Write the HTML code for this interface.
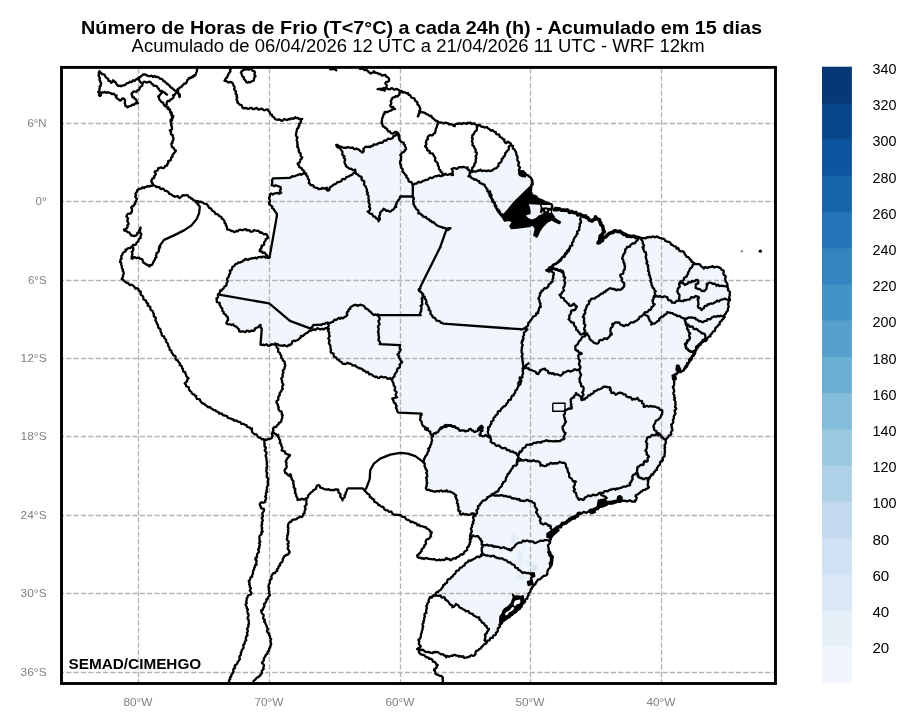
<!DOCTYPE html><html><head><meta charset="utf-8"><style>html,body{margin:0;padding:0;background:#fff}svg{display:block}text{font-family:"Liberation Sans",sans-serif}svg{will-change:transform;-webkit-font-smoothing:antialiased}</style></head><body>
<svg width="918" height="727" viewBox="0 0 918 727">
<rect width="918" height="727" fill="#fff"/>
<defs><clipPath id="c"><rect x="61.5" y="67.4" width="714.0" height="616.1"/></clipPath><filter id="bl" x="-50%" y="-50%" width="200%" height="200%"><feGaussianBlur stdDeviation="1"/></filter></defs>
<g clip-path="url(#c)">
<path d="M511.0 144.7 L506.7 151.4 L501.7 160.2 L496.7 167.7 L490.5 171.5 L480.4 170.2 L470.4 172.2 L470.4 172.2 L467.4 167.7 L460.4 167.2 L451.6 169.0 L452.9 175.2 L449.1 174.0 L442.8 175.2 L434.1 176.5 L425.3 180.3 L417.8 182.8 L412.8 184.8 L412.8 184.8 L407.8 179.0 L403.3 171.5 L400.2 164.0 L401.0 155.2 L405.8 148.9 L404.0 142.7 L399.5 140.2 L398.2 133.2 L396.5 132.2 L398.2 133.2 L392.7 137.7 L386.5 140.2 L377.7 143.9 L370.2 146.4 L363.9 147.7 L362.7 152.7 L357.7 148.9 L350.1 147.7 L343.9 147.7 L336.4 145.2 L336.4 145.2 L341.4 150.2 L343.9 156.5 L345.1 164.0 L347.6 168.2 L355.1 170.2 L355.6 172.7 L355.6 172.7 L347.6 176.5 L340.1 181.5 L332.6 185.3 L327.6 190.8 L326.3 187.8 L321.3 189.0 L315.1 187.8 L310.0 184.0 L307.5 177.8 L305.0 172.7 L305.0 172.7 L297.5 175.2 L290.0 177.3 L290.0 177.8 L273.0 178.3 L271.7 185.3 L280.5 186.5 L280.5 192.8 L270.0 194.0 L269.2 204.1 L275.0 210.3 L277.0 215.3 L277.0 215.3 L269.6 256.9 L269.6 256.9 L269.2 257.5 L269.2 257.5 L260.5 257.0 L252.9 258.3 L244.2 260.0 L235.4 264.5 L230.9 269.6 L228.4 277.1 L225.9 285.8 L220.4 290.8 L217.4 297.1 L216.6 300.9 L219.1 303.4 L222.9 310.9 L227.9 318.4 L226.6 323.4 L235.4 325.9 L240.4 331.7 L252.9 330.9 L260.5 324.7 L261.7 329.7 L260.5 344.7 L268.0 345.2 L275.5 344.2 L283.0 346.0 L290.0 345.2 L290.0 345.2 L292.5 341.7 L297.5 340.2 L303.8 334.7 L311.3 330.2 L315.1 329.2 L328.8 328.4 L328.8 328.4 L328.8 339.7 L331.3 352.2 L337.6 359.8 L343.9 363.5 L350.1 363.5 L357.7 367.3 L367.7 372.3 L375.2 377.3 L382.7 377.3 L390.2 378.5 L392.7 381.1 L395.2 389.8 L396.5 397.3 L392.2 398.6 L395.2 403.6 L397.7 412.9 L421.5 413.6 L420.3 419.9 L422.8 426.2 L427.8 428.9 L425.0 429.2 L429.2 430.8 L431.3 435.0 L432.8 435.3 L431.6 441.5 L429.1 449.0 L425.3 457.8 L422.8 461.6 L422.8 461.6 L425.3 466.6 L427.3 474.1 L426.6 482.9 L426.6 489.9 L434.1 491.1 L442.8 491.1 L446.6 490.4 L455.4 494.1 L457.4 502.9 L459.1 510.4 L460.4 514.2 L467.9 514.2 L474.2 513.7 L472.9 521.7 L470.9 531.7 L470.4 539.2 L470.4 539.2 L472.9 535.5 L477.9 536.2 L480.9 540.5 L482.4 545.5 L481.7 554.3 L481.7 555.5 L481.7 555.5 L475.4 558.0 L467.9 561.8 L460.4 568.1 L454.1 574.3 L447.9 580.6 L441.6 588.1 L435.3 594.4 L430.8 597.4 L430.1 597.1 L437.6 595.1 L443.8 597.6 L448.9 602.1 L452.6 607.1 L456.4 604.6 L462.6 608.9 L471.4 613.9 L478.9 618.1 L483.9 624.6 L489.0 628.9 L485.2 635.2 L484.7 640.2 L486.4 642.4 L486.3 642.5 L487.5 641.0 L493.3 636.7 L497.5 630.8 L500.0 625.0 L503.3 620.8 L509.2 616.7 L515.0 612.5 L520.0 607.5 L525.0 601.7 L528.3 595.0 L530.8 590.0 L534.2 585.0 L537.5 580.8 L541.7 577.5 L546.7 574.2 L548.3 570.0 L550.8 565.0 L551.7 558.3 L549.2 553.3 L548.3 547.5 L549.7 541.7 L552.0 536.3 L552.5 533.2 L555.0 529.8 L559.2 526.5 L564.2 523.2 L570.0 519.8 L575.0 516.5 L580.0 513.2 L585.0 512.3 L590.0 511.5 L595.0 509.0 L600.0 506.5 L605.0 504.0 L610.0 502.3 L616.7 501.5 L622.5 500.7 L628.3 501.0 L635.0 501.5 L636.7 499.8 L635.8 496.5 L638.3 493.2 L643.3 490.7 L648.3 487.3 L647.5 483.2 L648.3 479.0 L651.7 474.8 L655.8 470.7 L658.3 465.7 L662.5 459.8 L661.7 461.0 L665.0 455.0 L664.7 448.3 L665.8 440.0 L669.2 435.8 L671.7 432.5 L672.0 425.0 L674.2 416.7 L675.8 408.3 L674.7 398.3 L673.3 390.0 L674.2 381.7 L674.2 375.8 L677.5 372.5 L681.7 371.7 L685.0 368.3 L689.2 362.5 L693.3 355.8 L696.7 349.2 L700.8 343.3 L706.7 340.0 L685.0 368.0 L689.2 361.2 L693.3 353.7 L697.5 346.2 L701.7 341.2 L706.7 338.3 L710.0 336.2 L715.0 329.5 L720.0 322.8 L724.2 317.0 L727.5 310.3 L729.2 302.0 L729.7 293.7 L727.5 286.2 L725.8 279.5 L723.3 272.0 L720.8 267.8 L716.7 266.7 L710.0 267.0 L704.2 267.8 L698.3 264.5 L695.0 263.7 L690.0 259.5 L685.0 254.5 L685.0 253.1 L681.0 250.9 L676.8 248.1 L671.1 243.9 L665.5 240.3 L659.8 237.5 L654.1 236.8 L648.5 237.5 L642.8 238.2 L638.5 237.5 L638.5 237.5 L632.9 236.8 L627.2 236.1 L623.0 233.2 L617.3 231.1 L611.6 231.8 L606.0 236.1 L601.7 240.3 L598.9 243.1 L600.3 236.1 L603.9 231.8 L603.1 227.6 L600.3 221.9 L596.1 217.7 L591.8 221.2 L587.6 217.7 L580.5 214.8 L572.0 212.0 L563.5 209.9 L555.0 209.2 L554.4 209.6 L552.3 207.1 L551.6 203.3 L542.4 200.0 L536.7 198.6 L535.0 195.5 L531.1 195.2 L530.8 194.8 L531.3 187.0 L532.5 182.7 L531.8 178.5 L528.5 176.4 L525.4 174.2 L520.4 172.8 L520.0 175.2 L519.3 167.7 L518.0 160.2 L515.5 151.4 L511.7 145.2Z" fill="#f1f6fd" stroke="none"/>
<g filter="url(#bl)">
<ellipse cx="514.5" cy="539" rx="4" ry="5.5" fill="#e2ecf8"/>
<ellipse cx="520" cy="558" rx="3.5" ry="6.5" fill="#e2ecf8"/>
<ellipse cx="534.3" cy="567.5" rx="3.2" ry="3.6" fill="#d3e3f3"/>
<ellipse cx="520.5" cy="577.5" rx="5" ry="2.8" fill="#e0ebf7"/>
<ellipse cx="524" cy="548" rx="2" ry="2" fill="#e4eef9"/>
<ellipse cx="528" cy="563" rx="3" ry="3" fill="#e4eef9"/>
</g>
<g stroke="#b4b4b4" stroke-width="1.35" stroke-dasharray="5.14 2.22" fill="none">
<path d="M138.5 67.4 V683.5" stroke-dashoffset="6.44"/>
<path d="M269.5 67.4 V683.5" stroke-dashoffset="6.44"/>
<path d="M400.5 67.4 V683.5" stroke-dashoffset="6.44"/>
<path d="M530.5 67.4 V683.5" stroke-dashoffset="6.44"/>
<path d="M661.5 67.4 V683.5" stroke-dashoffset="6.44"/>
<path d="M61.5 123.5 H775.5" stroke-dashoffset="2.66"/>
<path d="M61.5 201.5 H775.5" stroke-dashoffset="2.66"/>
<path d="M61.5 280.5 H775.5" stroke-dashoffset="2.66"/>
<path d="M61.5 358.5 H775.5" stroke-dashoffset="2.66"/>
<path d="M61.5 436.5 H775.5" stroke-dashoffset="2.66"/>
<path d="M61.5 515.5 H775.5" stroke-dashoffset="2.66"/>
<path d="M61.5 593.5 H775.5" stroke-dashoffset="2.66"/>
<path d="M61.5 672.5 H775.5" stroke-dashoffset="2.66"/>
</g>
<g stroke="#000" stroke-width="2.3" fill="none" stroke-linejoin="round" stroke-linecap="round">
<path d="M197.3 68.8 L196.9 70.0 L196.9 71.4 L196.2 72.5 L195.9 73.8 L195.4 75.1 L193.9 75.4 L193.2 77.1 L191.5 76.9"/>
<path d="M168.2 107.1 L168.2 108.4 L169.6 109.1 L169.9 110.2 L170.3 111.3 L170.5 112.7 L171.4 113.8 L171.7 115.1 L172.0 116.5 L172.0 117.7 L171.8 119.1 L170.5 120.0 L170.6 121.5 L171.0 122.5 L171.5 123.7 L171.0 125.3 L171.9 126.4 L171.8 127.8 L172.1 129.0 L171.3 129.9 L169.8 130.4 L171.0 131.7 L170.7 133.2 L171.1 134.4 L172.7 135.1 L172.9 136.4 L173.2 137.7 L173.6 139.0 L173.1 140.2 L172.3 141.4 L172.6 142.7 L171.2 143.8 L171.6 145.2 L171.8 146.5 L172.3 147.4 L173.6 147.7 L174.1 149.0 L174.9 149.9 L175.9 150.5 L175.2 151.9 L174.1 152.8 L173.5 154.1 L172.4 154.9 L172.6 156.7 L171.3 157.3 L171.0 158.6 L170.9 160.0 L169.6 160.7 L168.1 161.2 L168.4 162.8 L167.3 163.8 L167.2 165.5 L165.2 165.8 L164.7 167.2 L163.5 168.1 L162.2 168.0 L160.8 167.4 L159.5 167.9 L158.2 168.2 L158.1 169.7 L157.2 170.6 L155.6 171.0 L154.6 171.8 L155.8 173.7 L155.3 175.1 L154.0 176.4 L154.3 177.9 L152.7 178.3 L151.8 179.4 L151.5 180.8"/>
<path d="M151.5 180.8 L151.5 182.3 L152.7 183.4 L152.9 184.9 L152.1 185.8 L150.6 185.7 L149.4 186.7 L147.7 186.0 L146.5 186.8 L145.1 187.1 L144.1 188.1 L142.5 187.2 L141.5 188.5 L140.2 188.6 L139.0 189.2 L137.8 189.6 L137.2 190.5 L137.3 191.8 L136.0 192.7 L135.3 193.8 L136.2 195.5 L135.2 196.6 L136.0 197.8 L137.0 198.9 L136.1 200.3 L136.0 201.6 L135.2 202.2 L135.2 204.0 L133.8 204.5 L133.7 206.1 L132.0 206.4 L131.2 207.7 L131.9 209.1 L132.1 210.4 L131.7 211.6 L131.3 212.8 L130.3 213.7 L128.7 213.6 L127.4 214.3 L126.6 215.8 L126.5 216.6 L127.6 217.7 L128.0 218.9 L127.3 220.5 L127.6 221.7 L128.4 222.9 L128.6 224.2 L127.3 225.3 L127.7 226.6 L127.2 227.8 L126.4 228.4 L125.4 229.6 L124.0 229.5 L124.5 230.7 L125.9 230.8 L126.9 231.4 L127.8 232.3 L129.3 232.4 L130.0 233.4 L130.7 234.7 L131.5 235.7 L133.0 235.7 L134.3 236.1 L134.9 235.8 L136.4 235.4 L136.9 234.1 L137.5 232.7 L139.1 232.5 L139.5 231.2 L139.2 229.8 L140.3 228.7 L140.6 227.5 L140.4 228.7 L140.2 230.0 L139.6 231.3 L140.2 232.6 L141.3 233.9 L141.0 235.2 L140.4 236.6 L140.7 237.9 L139.4 238.6 L138.6 239.8 L138.3 241.3 L137.1 242.2 L136.3 243.3 L135.8 244.7 L134.6 245.0 L133.0 244.9 L132.5 246.3 L131.4 246.8"/>
<path d="M153.2 184.8 L154.3 185.6 L155.5 186.0 L156.4 187.1 L158.0 187.0 L159.4 187.1 L160.1 188.5 L161.3 189.2 L163.1 188.6 L164.1 189.7 L165.0 190.9 L166.6 190.8 L167.7 191.7 L168.7 192.4 L169.3 193.8 L170.7 194.1 L171.8 194.8 L172.8 195.8 L173.9 196.1 L175.0 196.8 L176.3 196.3 L177.6 196.0 L178.5 197.3 L179.6 198.1 L180.9 196.9 L181.9 196.2 L182.8 195.2 L184.2 195.4 L185.6 195.4 L186.7 195.0 L188.0 195.6 L188.8 197.2 L190.3 197.3 L191.0 198.5 L192.5 198.8 L193.2 200.0 L194.5 200.5 L195.9 200.9 L196.7 201.6 L198.1 201.1 L199.4 202.3 L200.8 201.6 L201.9 202.4 L203.2 202.7 L204.2 203.7 L205.6 203.9 L206.9 204.2 L207.8 205.4 L208.4 206.6 L209.0 207.8 L210.6 208.3 L211.5 209.2 L212.0 210.5 L213.4 211.2 L214.2 211.7 L215.0 212.7 L215.6 214.1 L217.0 214.1 L218.1 214.6 L218.9 215.7 L220.0 216.4 L221.4 217.0 L221.9 218.6 L223.3 219.2 L224.0 220.5 L224.7 221.6 L224.5 223.0 L226.0 223.9 L225.9 225.4 L226.8 226.5 L227.0 227.8 L227.0 229.3 L228.5 229.6 L229.7 229.9 L230.7 230.6 L231.8 231.1 L233.1 231.1 L234.2 232.2 L235.4 231.7 L236.6 230.9 L237.9 231.3 L239.0 229.9 L240.3 229.8 L241.8 230.0 L243.3 230.2 L244.5 229.3 L246.0 229.2 L246.7 230.4 L248.3 230.2 L249.7 230.3 L250.4 231.6 L251.7 231.6 L253.0 231.3 L254.0 230.1 L255.4 230.5 L256.8 230.8 L258.1 230.6 L259.2 231.6 L260.2 232.8 L261.8 232.5 L262.9 233.5 L263.8 234.3 L265.4 233.9 L266.6 234.3 L267.2 235.8 L268.1 236.6 L268.3 237.3 L267.4 238.4 L265.8 239.0 L265.6 240.5 L264.7 241.5 L264.1 242.6 L264.2 244.1 L263.6 245.2 L261.8 245.5 L261.5 246.8"/>
<path d="M195.3 201.6 L199.8 206.6 L199.1 213.3 L196.6 219.1 L191.5 225.4 L184.0 230.4 L174.0 235.4 L164.0 239.9 L159.0 246.9"/>
<path d="M290.0 177.8 L273.0 178.3 L272.3 179.6 L272.0 181.0 L272.4 182.5 L271.9 183.9 L271.6 185.3 L273.0 185.3 L274.2 186.2 L275.6 185.3 L276.8 185.6 L278.0 186.4 L279.2 186.4 L280.4 187.1 L280.6 187.8 L280.9 189.0 L279.9 190.3 L280.2 191.5 L281.2 192.8 L279.3 193.8 L277.8 192.8 L276.5 193.1 L275.2 193.4 L273.9 193.6 L272.7 194.5 L271.2 193.5 L270.0 194.2 L269.9 195.3 L269.8 196.5 L269.1 197.8 L269.2 199.0 L269.9 200.3 L270.1 201.6 L269.1 202.8 L269.1 204.1 L270.2 204.8 L270.9 205.8 L272.2 206.3 L272.1 208.0 L273.3 208.6 L274.0 209.6 L274.5 210.7 L275.4 211.6 L276.1 212.8 L276.9 213.9 L276.8 215.4"/>
<path d="M230.9 68.8 L230.0 69.8 L230.5 71.5 L229.5 72.6 L228.6 73.7 L228.2 75.0 L227.4 76.1 L227.2 77.5 L225.8 78.2 L225.3 79.7 L224.5 80.8 L225.3 81.0 L226.5 81.2 L227.6 81.9 L228.7 82.5 L230.1 81.9 L231.4 82.2 L232.4 83.0 L233.2 84.1 L233.4 85.4 L234.3 86.4 L234.7 87.6 L234.2 89.2 L234.8 90.4 L236.0 91.2 L235.7 92.6 L235.7 93.9 L237.0 95.0 L236.5 96.3 L237.3 97.5 L236.6 98.9 L236.7 100.1 L237.6 101.3 L237.3 102.6 L238.5 103.3 L239.2 104.3 L240.4 104.9 L241.7 105.2 L242.1 106.6 L242.7 107.9 L244.0 108.3 L245.4 107.9 L246.7 108.2 L247.9 108.9 L249.2 108.7 L250.5 107.8 L251.7 107.9 L252.9 109.2 L254.2 109.2 L255.5 108.3 L256.7 107.9 L257.9 109.1 L259.1 109.7 L260.5 108.9 L261.8 108.6 L262.9 109.6 L264.1 110.3 L265.4 110.0 L266.8 109.3 L268.0 109.8 L268.6 111.2 L269.7 111.9 L270.0 113.3 L270.6 114.4 L272.0 114.9 L272.3 116.3 L273.4 117.0 L274.4 117.7 L275.0 118.9 L276.1 119.5 L277.4 119.8 L278.8 119.4 L280.2 119.9 L281.5 120.8 L283.0 120.3 L284.3 119.0 L285.8 119.7 L287.3 120.2 L288.6 119.0 L290.1 119.4"/>
<path d="M240.9 72.5 L241.8 71.3 L242.9 70.3 L244.4 69.7 L245.4 69.4 L246.7 69.1 L248.0 69.5 L249.3 69.7 L250.4 68.4 L251.8 69.4 L252.7 70.9 L254.2 71.2 L254.9 72.4 L254.6 73.8 L254.6 75.2 L255.6 76.2 L254.4 77.4 L254.0 78.8 L253.9 80.5 L252.3 81.2 L251.2 81.5 L250.1 82.5 L248.6 82.0 L247.5 82.7 L246.1 82.0 L245.7 80.7 L244.8 79.9 L243.9 79.0 L243.9 77.3 L242.4 76.5 L241.9 75.2 L241.6 73.7 L241.1 72.4"/>
<path d="M277.0 215.3 L269.6 256.9"/>
<path d="M330.1 69.3 L331.3 69.3 L332.6 69.2 L333.9 68.6 L335.1 69.6 L336.3 70.3"/>
<path d="M359.7 68.8 L360.9 68.8 L362.3 68.3 L363.5 69.2 L364.6 70.1 L365.9 69.8 L367.1 70.3 L367.9 71.0 L368.6 72.1 L369.8 72.8 L370.7 73.6 L371.0 73.2 L372.1 72.7 L373.4 72.5 L373.9 71.2 L374.7 72.2 L375.6 72.9 L377.0 73.0 L378.2 73.4 L379.0 74.2 L380.3 74.0 L381.4 75.1 L382.6 75.6 L384.0 75.0 L385.5 74.9 L386.0 76.4 L387.2 76.9 L388.2 77.6 L389.0 78.9 L389.1 80.6 L388.1 81.6 L386.5 81.9 L385.4 82.9 L385.5 83.8 L386.8 84.8 L386.4 86.3 L386.6 87.6 L385.5 88.0 L385.0 89.4 L384.6 90.7 L382.8 89.5 L381.4 90.0 L380.2 89.4 L379.0 88.9 L377.6 89.2 L379.0 89.2 L380.2 88.7 L381.5 89.2 L382.7 88.3 L383.9 88.0 L385.2 88.8 L386.5 88.2 L387.7 88.9 L389.0 89.4 L390.2 89.1 L391.5 88.1 L392.8 88.6 L393.9 89.6 L395.2 89.3 L396.5 88.9 L397.7 89.3 L398.9 90.2 L400.0 91.1 L401.7 91.0"/>
<path d="M401.5 91.3 L400.4 92.1 L399.4 93.1 L399.3 94.7 L398.3 95.6 L397.4 96.7 L395.8 96.2 L394.8 97.1 L393.5 97.3 L392.4 97.9 L391.8 99.5 L391.3 100.1 L390.8 101.3 L391.4 102.7 L391.1 103.9 L390.3 105.1 L390.6 106.4 L391.4 107.1 L393.1 106.9 L393.8 108.6 L395.1 109.1 L394.0 109.0 L392.7 109.2 L391.7 110.1 L390.6 110.6 L389.4 111.0 L388.3 111.6 L387.2 112.1 L385.7 111.8 L384.5 112.1 L384.6 113.8 L383.3 114.6 L383.3 115.9 L382.9 116.9 L382.3 118.0 L382.0 119.2 L381.9 120.4 L382.0 121.6 L381.4 122.7 L382.2 124.0 L382.5 124.8 L382.9 126.4 L384.5 126.8 L385.3 128.0 L386.7 128.6 L387.4 129.9 L388.1 131.3 L389.9 131.5 L390.5 132.9 L391.9 133.5 L392.8 133.6 L394.0 133.1 L395.0 131.8 L396.4 132.0 L396.6 133.5 L397.3 134.6 L398.5 135.3 L398.7 136.6 L399.3 137.6 L399.2 138.9 L399.7 140.1"/>
<path d="M401.5 91.3 L402.5 92.5 L404.0 92.2 L405.4 92.6 L406.5 93.3 L408.1 93.0 L408.7 94.8 L410.1 95.2 L410.8 96.4 L411.5 97.7 L412.9 98.0 L414.4 98.3 L414.8 99.7 L415.3 100.9 L416.6 101.5 L417.5 102.3 L417.3 104.0 L418.1 104.9 L419.1 105.9 L419.7 107.2 L420.3 108.6 L419.8 110.3 L419.2 111.1 L419.7 112.8 L418.6 113.8 L418.8 115.3 L417.8 116.4 L418.6 115.2 L418.6 113.6 L420.1 112.8 L421.3 111.9 L421.9 112.2 L423.1 112.5 L424.4 112.6 L425.5 113.3 L426.5 114.2 L427.7 114.3 L428.7 115.1 L429.7 116.0 L431.4 115.9 L431.9 117.4 L432.9 118.3 L434.0 119.0 L434.8 119.9 L435.7 120.8 L437.2 120.9 L438.1 121.8"/>
<path d="M437.8 122.1 L438.1 123.6 L437.3 124.9 L436.9 126.3 L436.5 127.6 L435.8 128.8 L435.7 130.2 L435.3 131.5 L435.2 132.9 L433.5 133.7 L433.0 134.9 L431.8 135.5 L430.1 135.0 L429.0 135.7 L427.9 136.6 L427.5 137.7 L428.0 139.1 L426.6 140.1 L426.2 141.3 L425.8 142.6 L426.5 144.1 L425.9 145.3 L425.0 146.3 L426.1 147.4 L427.1 148.2 L427.1 149.8 L428.0 150.6 L429.7 151.0 L429.5 153.0 L430.9 153.3 L432.5 153.4 L433.3 154.6 L433.9 155.9 L434.6 156.8 L435.2 157.9 L435.2 159.3 L435.0 160.7 L436.2 161.5 L437.1 162.5 L437.9 163.6 L437.8 165.3 L438.7 166.4 L439.0 167.8 L439.0 169.3 L440.4 170.2 L440.5 171.7 L442.2 172.5 L442.4 173.9 L442.8 175.3"/>
<path d="M437.8 122.1 L439.1 122.4 L440.3 122.5 L441.6 122.5 L442.8 123.1 L444.0 123.3 L445.4 122.6 L446.7 123.1 L448.0 123.1 L449.0 124.5 L450.4 124.2 L451.6 124.5 L452.8 124.9 L453.3 125.8 L454.8 126.2 L454.6 125.3 L455.4 124.2 L456.6 123.7 L457.9 123.9 L459.1 123.3 L460.4 123.5 L461.7 124.0 L462.9 123.2 L464.1 123.3 L465.4 123.2 L466.6 123.9 L467.9 122.7 L469.2 123.2 L470.4 122.5 L471.6 124.1 L473.2 123.4 L474.6 123.5 L475.6 124.9 L477.1 124.8 L478.4 125.2"/>
<path d="M478.4 125.1 L477.6 126.3 L476.7 127.4 L476.9 129.0 L476.7 130.5 L475.2 131.3 L474.5 132.3 L474.0 133.4 L473.4 134.5 L472.3 135.2 L472.4 136.7 L471.9 137.8 L472.7 138.8 L472.2 140.2 L471.9 141.5 L472.6 142.7 L472.8 143.9 L472.3 145.3 L474.0 146.2 L474.2 147.7 L475.2 148.7 L475.7 150.0 L475.4 151.8 L476.8 152.6 L476.7 154.0 L476.3 155.2 L475.5 156.4 L476.4 157.8 L475.9 159.0 L475.6 160.2 L475.8 161.5 L475.5 162.9 L474.3 163.9 L474.4 165.4 L473.6 166.6 L472.3 167.5 L472.3 168.8 L471.8 170.0 L471.2 171.2 L469.9 172.0"/>
<path d="M478.4 125.1 L479.8 124.9 L480.7 126.2 L481.8 126.8 L483.2 126.6 L484.2 127.5 L485.6 127.3 L487.0 127.0 L487.9 128.3 L489.0 128.9 L489.9 129.7 L490.8 130.7 L492.5 130.2 L493.5 131.0 L494.5 131.9 L495.8 132.1 L496.0 133.9 L497.2 134.4 L498.9 134.3 L499.5 135.4 L499.8 137.0 L501.1 137.4 L502.2 138.0 L502.8 139.2 L504.4 139.5 L504.3 141.2 L504.9 142.3 L506.0 143.2 L506.9 142.2 L508.2 141.6 L508.7 142.6 L510.3 142.9 L510.9 144.1 L511.3 145.7 L513.1 145.8 L512.8 147.4 L512.9 148.7 L514.4 149.3 L515.1 150.3 L515.5 151.5 L516.2 152.6 L516.3 153.9 L516.6 155.2 L517.3 156.4 L517.7 157.6 L517.3 159.1 L517.4 160.4 L518.3 161.5 L519.1 162.6 L518.7 164.0 L518.1 165.3 L519.1 166.5 L520.0 167.6 L519.3 169.0 L518.8 170.3 L519.7 171.5 L520.0 172.7 L519.5 174.0 L520.4 175.2"/>
<path d="M511.0 144.7 L510.0 145.6 L508.8 146.5 L508.9 148.1 L508.7 149.5 L507.6 150.4 L506.8 151.5 L506.1 152.5 L505.0 153.4 L505.1 154.9 L504.6 156.0 L503.5 156.8 L503.1 158.1 L501.7 158.7 L501.8 160.3 L501.3 161.5 L500.6 162.6 L499.1 163.1 L498.4 164.2 L498.6 165.9 L497.5 166.7 L496.9 167.8 L495.7 168.4 L494.4 168.6 L493.5 169.4 L492.6 170.3 L491.3 170.5 L490.3 171.2 L489.3 170.9 L488.0 170.4 L486.7 171.2 L485.4 170.8 L484.2 170.5 L482.9 171.0 L481.6 170.9 L480.5 169.6 L479.2 170.7 L477.9 170.5 L476.7 171.2 L475.5 171.8 L474.2 171.4 L472.8 171.1 L471.7 172.2 L470.4 172.5"/>
<path d="M470.4 172.2 L469.6 171.2 L469.2 169.8 L467.6 169.3 L467.8 167.5 L466.0 167.8 L464.6 167.2 L463.2 166.8 L461.8 167.5 L460.4 167.2 L459.0 167.1 L458.0 168.2 L456.8 168.8 L455.4 168.3 L454.0 168.0 L452.8 168.5 L451.6 168.9 L452.4 170.1 L452.7 171.4 L452.3 172.7 L452.9 173.9 L452.9 175.2 L451.6 174.9 L450.6 173.8 L449.0 174.4 L448.0 174.8 L446.6 174.6 L445.2 173.9 L444.1 175.0 L442.8 174.9 L441.7 176.0 L440.4 176.2 L439.0 175.3 L437.8 175.8 L436.6 176.2 L435.3 176.2 L434.1 176.8 L433.0 177.5 L431.8 178.1 L430.1 177.6 L428.9 178.4 L428.0 179.7 L426.6 179.9 L425.2 180.0 L424.1 180.7 L422.7 180.9 L421.7 182.0 L420.5 182.5 L418.8 181.7 L417.7 182.6 L416.6 183.5 L415.2 183.6 L414.0 184.3 L413.0 185.3"/>
<path d="M412.8 184.8 L412.1 183.7 L411.7 182.4 L410.3 181.9 L408.8 181.5 L408.4 180.2 L408.1 178.7 L407.2 177.9 L406.3 177.0 L406.5 175.4 L405.2 174.7 L404.5 173.7 L403.8 172.6 L402.7 171.8 L402.6 170.3 L402.6 168.8 L401.4 167.9 L400.8 166.6 L401.2 165.1 L400.1 164.0 L400.3 162.7 L400.0 161.4 L401.1 160.3 L400.9 159.0 L401.0 157.7 L401.3 156.5 L400.2 155.1 L401.5 154.0 L401.9 152.6 L403.6 152.2 L404.5 151.3 L405.0 150.0 L406.1 149.2 L405.8 147.6 L405.0 146.4 L405.0 145.1 L403.6 144.1 L403.8 142.7 L402.7 142.4 L401.4 142.0 L400.5 141.0 L399.7 139.8 L399.1 138.8 L398.9 137.4 L399.3 135.9 L398.9 134.5 L397.4 133.3 L397.5 132.5 L396.4 132.2"/>
<path d="M398.2 133.2 L397.1 134.0 L396.1 135.0 L394.9 135.8 L393.4 136.2 L392.9 137.8 L391.7 138.6 L390.4 139.0 L388.8 138.6 L387.5 139.1 L386.6 140.5 L385.1 140.4 L383.8 140.8 L382.9 142.2 L381.7 142.9 L380.1 142.6 L378.8 143.0 L377.7 143.9 L376.5 144.5 L375.2 144.7 L373.7 144.4 L372.8 145.9 L371.4 145.9 L370.4 147.1 L368.9 146.7 L367.7 147.0 L366.3 146.7 L365.1 147.0 L364.0 148.3 L363.4 148.9 L363.7 150.3 L363.6 151.6 L362.2 152.6 L362.0 151.6 L360.5 151.4 L359.7 150.3 L358.8 149.5 L357.4 149.3 L356.5 148.4 L355.0 149.2 L353.8 148.7 L352.7 147.5 L351.4 147.9 L350.2 147.6 L348.9 147.3 L347.6 147.0 L346.4 147.9 L345.1 147.6 L343.9 147.9 L342.6 147.4 L341.4 146.8 L340.1 146.5 L338.7 146.5 L337.8 145.0 L336.4 145.0"/>
<path d="M336.4 145.2 L336.9 146.6 L338.0 147.5 L339.8 147.7 L340.5 149.1 L341.3 150.2 L342.2 151.3 L342.5 152.6 L342.2 154.2 L342.9 155.4 L344.5 156.2 L343.7 157.8 L344.9 158.9 L345.2 160.1 L344.4 161.5 L344.7 162.8 L345.1 164.0 L345.9 165.0 L346.0 166.3 L347.3 167.0 L348.3 167.8 L348.9 168.4 L350.2 168.8 L351.5 168.7 L352.5 170.1 L353.8 170.1 L355.3 169.6 L355.2 171.5 L354.8 172.9"/>
<path d="M355.6 172.7 L354.2 172.6 L353.1 173.4 L352.3 174.5 L351.2 175.2 L350.0 175.5 L349.0 176.3 L347.8 176.8 L346.4 177.0 L345.8 178.3 L344.8 179.3 L343.1 178.9 L341.9 179.6 L341.4 181.1 L340.2 181.6 L338.8 182.0 L337.3 182.1 L336.4 183.4 L335.2 184.2 L333.8 184.5 L332.7 185.4 L331.9 186.3 L330.6 186.8 L329.7 187.6 L329.6 189.2 L328.9 190.3 L327.4 190.6 L326.8 189.9 L327.2 188.6 L326.8 187.6 L325.2 188.6 L323.8 188.5 L322.4 187.9 L321.3 189.0 L320.1 188.7 L318.7 189.3 L317.6 188.0 L316.4 187.8 L315.1 187.5 L313.9 187.2 L313.5 185.6 L312.3 185.2 L310.7 185.2 L310.1 183.9 L308.8 183.1 L309.2 181.5 L309.1 180.0 L308.1 179.0 L307.8 177.7 L307.5 176.2 L306.2 175.3 L306.2 173.7 L304.3 173.1 L304.0 171.2 L303.5 170.2 L302.2 169.6 L301.8 168.4 L300.6 167.8 L299.3 167.3 L299.2 165.8 L298.4 164.8 L297.5 164.0 L298.3 162.9 L299.8 162.4 L300.2 161.0 L300.4 159.4 L301.6 158.7 L302.3 157.6 L301.6 156.9 L300.6 156.0 L300.7 154.5 L300.6 153.2 L299.4 152.5 L298.7 151.5 L299.0 150.1 L298.4 148.9 L298.3 147.6 L297.0 146.6 L297.9 145.1 L297.2 143.9 L297.5 142.6 L297.1 141.4 L296.7 140.2 L296.9 138.9 L297.5 137.6 L296.4 136.4 L295.9 135.2 L296.2 133.9 L296.2 132.7 L296.7 131.4 L296.8 130.1 L297.1 128.8 L298.5 127.8 L298.4 126.4 L299.5 125.4 L299.1 123.7 L300.5 122.9 L300.9 121.5 L300.9 119.9 L302.2 119.0 L300.6 119.2 L299.2 119.1 L297.9 117.9 L296.4 118.2 L295.1 117.3 L293.8 118.8 L292.5 118.4 L291.3 118.7 L290.0 118.7"/>
<path d="M305.0 172.7 L304.0 173.7 L302.5 173.6 L301.5 174.8 L299.9 174.2 L298.7 174.5 L297.5 175.2 L296.2 175.4 L295.1 176.1 L293.8 176.3 L292.4 176.1 L291.3 177.1 L290.1 177.8"/>
<path d="M355.6 172.7 L356.2 174.0 L357.6 174.4 L358.5 175.2 L359.4 176.2 L360.8 176.5 L361.8 177.3 L361.5 179.3 L362.3 180.4 L364.0 181.1 L364.4 182.5 L363.9 184.4 L364.8 185.5 L365.8 186.5 L366.1 187.7 L366.7 188.9 L367.0 190.2 L366.7 191.7 L367.9 192.7 L367.0 194.2 L368.3 195.3 L368.7 196.5 L368.4 197.8 L368.6 199.0 L368.9 200.3 L368.3 201.6 L368.9 202.8 L369.6 204.0 L369.7 205.3 L369.0 206.7 L370.0 207.8 L370.2 209.1 L369.7 210.2 L368.9 211.1 L367.6 211.5 L368.8 212.2 L369.6 213.2 L370.7 213.8 L372.1 214.0 L372.7 215.4 L373.5 216.5 L375.2 216.7 L375.9 218.0 L377.0 218.8 L378.2 219.6 L378.5 221.4 L379.7 219.6 L379.8 218.2 L379.0 216.7 L379.5 215.5 L380.2 214.2 L380.0 212.8 L381.0 211.8 L381.9 210.8 L383.0 210.0 L383.6 208.8 L385.2 209.7 L386.2 210.8 L387.7 210.6 L388.9 211.2 L390.2 211.7 L391.3 210.9 L392.1 209.9 L393.4 209.6 L394.2 208.5 L394.8 207.2 L396.2 206.8 L395.5 205.1 L396.6 204.1 L396.4 202.6 L397.5 201.6 L398.1 200.4 L398.9 199.6 L399.8 198.6 L400.0 196.9 L401.4 196.4"/>
<path d="M401.5 196.5 L412.8 196.5"/>
<path d="M412.8 184.8 L412.8 197.0"/>
<path d="M412.8 197.0 L413.9 198.3 L413.3 199.8 L413.0 201.2 L413.7 202.6 L413.3 204.0 L414.4 205.3 L414.6 206.5 L415.6 207.4 L415.9 208.7 L416.9 209.6 L418.3 210.3 L418.5 211.7 L418.3 213.3 L420.2 213.5 L421.1 214.6 L422.4 215.1 L423.0 216.6 L424.3 217.0 L426.0 217.0 L426.7 218.4 L427.8 219.1 L429.2 219.4 L429.8 220.8 L431.3 221.0 L432.0 222.3 L433.7 222.1 L434.5 223.2 L435.5 224.2 L436.5 225.0 L437.6 225.7 L438.9 226.2 L440.2 226.8 L441.6 226.9 L442.7 227.8 L444.3 227.7 L445.5 228.2 L446.3 229.7 L447.7 228.4 L449.4 229.1 L450.5 228.2 L448.9 228.2 L448.3 230.0 L446.4 229.6 L440.3 246.9"/>
<path d="M470.4 172.2 L469.6 173.6 L469.6 175.1 L468.3 176.3 L470.7 176.5 L471.5 178.1 L472.9 178.3 L473.9 179.5 L475.6 179.3 L476.8 180.1 L477.8 181.0 L479.2 181.1 L479.6 182.9 L480.8 183.3 L482.2 183.6 L483.1 184.5 L484.6 184.7 L485.0 186.3 L485.9 187.2 L486.4 188.5 L487.6 189.2 L487.2 191.0 L488.5 191.7 L488.6 193.2 L490.3 193.8 L489.5 195.6 L490.6 196.6 L491.3 197.8 L492.0 199.0 L493.1 200.0 L492.4 201.8 L493.9 202.5 L494.9 203.4 L494.7 204.9 L494.9 206.3 L496.2 207.0 L496.6 208.2 L497.2 209.3 L498.7 209.9 L499.1 211.2 L500.1 212.1 L500.1 213.8 L501.1 214.6 L502.4 215.4 L502.9 216.6 L504.0 217.7 L505.5 217.3 L506.8 217.8 L508.0 218.4"/>
<path d="M520.4 172.8 L521.9 172.6 L523.1 173.0 L524.0 174.5 L525.4 174.4 L526.5 174.9 L527.9 175.1 L528.7 176.2 L529.7 177.0 L530.9 177.5 L531.4 179.1 L532.2 179.9 L532.3 181.3 L532.6 182.7 L532.7 184.3 L531.3 185.5 L531.2 187.0 L531.0 188.3 L531.1 189.6 L530.9 190.9 L530.7 192.2 L531.8 193.5 L530.7 194.8"/>
<path d="M490.0 191.2 L490.3 192.4 L490.1 193.7 L491.2 194.7 L491.6 195.8 L490.9 197.2 L491.4 198.3 L492.3 199.4 L492.3 201.0 L493.6 201.8 L494.8 202.7 L494.8 204.3 L495.8 205.3 L496.1 206.6 L496.1 208.0 L497.1 208.9 L497.0 210.3 L498.4 211.1 L498.6 212.5 L499.8 213.1 L500.4 214.3 L501.7 214.9 L503.0 215.0 L504.0 216.8 L505.5 216.9"/>
<path d="M580.6 218.1 L580.1 219.5 L581.0 221.0 L581.0 222.4 L579.7 223.8 L579.9 225.2 L579.8 226.3 L579.1 227.4 L579.2 228.7 L579.3 230.1 L578.0 230.8 L577.0 231.8 L577.7 233.6 L576.6 234.5 L576.3 235.7 L575.3 236.7 L574.5 237.8 L574.0 239.0 L573.4 240.1 L573.4 241.6 L572.2 242.5 L572.0 243.9 L572.3 245.5 L570.2 245.9 L570.0 247.4 L569.3 248.6 L568.7 249.8 L568.6 251.4 L566.8 251.9 L566.1 253.0 L564.9 253.8 L565.1 255.6 L564.4 256.8 L562.7 257.2 L561.8 258.2 L560.9 259.1 L559.8 259.9 L559.4 261.5 L558.0 262.1 L557.0 263.1 L555.6 263.6 L554.5 264.5 L553.0 264.9 L552.5 266.6 L551.6 267.8 L550.3 268.4 L548.7 268.5 L547.7 269.6 L546.7 270.6 L548.1 270.4 L549.4 270.0 L550.3 268.7 L551.8 268.7 L552.8 267.6 L554.2 268.4 L555.3 269.1 L556.8 268.8 L557.6 270.3 L558.8 270.7 L560.0 271.0 L561.2 271.5 L562.8 270.9 L563.5 272.7"/>
<path d="M131.4 247.0 L130.5 248.1 L129.1 248.2 L127.7 248.3 L126.8 249.5 L125.5 249.7 L125.6 251.5 L124.2 251.9 L123.1 252.6 L122.6 253.7 L122.2 254.9 L121.4 255.8 L121.3 257.1 L121.7 258.4 L120.5 259.5 L120.5 260.8 L120.0 262.0 L121.3 263.0 L121.1 264.6 L121.7 265.8 L121.8 267.2 L122.0 268.5 L123.0 269.5 L122.7 271.0 L123.6 272.0 L123.7 273.4 L123.5 274.5 L122.9 275.5 L123.0 276.8 L122.3 277.9 L121.7 279.0 L123.1 279.7 L123.7 280.7 L124.6 281.5 L125.8 281.8 L126.7 282.9 L128.2 283.0 L129.0 284.3 L130.1 285.1 L131.8 284.6 L132.8 285.5 L133.9 286.2 L134.6 287.4 L135.4 288.6 L137.2 288.2 L138.3 288.8 L138.6 290.6 L139.9 291.0 L140.9 291.9 L140.5 293.5 L140.8 294.8 L142.1 295.5 L143.0 296.5 L143.4 297.7 L143.4 299.2 L144.7 299.9 L146.0 300.6 L146.2 302.0 L147.0 303.0 L148.1 303.8 L147.6 305.7 L149.2 306.2 L150.4 306.9 L150.3 308.5 L150.6 309.8 L151.9 310.5 L152.8 311.4 L153.1 312.7 L153.8 313.8 L153.7 315.1 L153.9 316.4 L155.4 317.2 L155.9 318.4 L155.3 319.9 L155.8 321.1 L156.6 322.1 L156.8 323.5 L157.7 324.6 L158.1 325.9 L158.1 327.5 L159.4 328.4 L160.5 329.4 L160.4 330.9 L160.9 332.2 L161.6 333.4 L161.7 334.9 L162.3 336.0 L164.1 336.4 L164.3 337.9 L165.1 338.9 L166.2 339.8 L165.9 341.5 L166.8 342.5 L167.7 343.5 L168.1 344.8 L168.3 346.2 L169.3 347.2 L169.5 348.6 L169.8 349.9 L171.5 350.5 L171.4 352.0 L172.2 353.1 L172.9 354.1 L173.4 355.4 L175.1 355.8 L175.7 357.0 L175.5 358.6 L176.1 359.8 L177.7 360.3 L178.2 361.5 L179.0 362.5 L180.0 363.4 L179.7 365.2 L181.2 365.7 L182.0 366.7 L182.1 368.1 L183.0 369.0 L183.0 370.5 L183.4 371.7 L185.1 372.2 L185.4 373.5 L186.0 374.7 L186.4 376.1 L187.2 377.2 L188.5 378.2 L187.1 379.8 L187.2 381.4 L185.9 382.3 L184.7 383.3 L185.9 384.7 L186.1 386.1 L187.4 386.8 L188.8 387.4 L188.9 388.9 L189.3 390.2 L190.3 391.1 L191.3 391.8 L191.8 393.2 L192.6 394.1 L194.2 394.3 L194.7 395.6 L196.2 395.9 L196.3 397.6 L196.8 398.9 L198.4 399.1 L199.8 399.4 L200.3 400.8 L200.9 401.9 L201.9 402.7 L202.7 403.7 L204.2 403.7 L205.1 404.8 L206.1 405.6 L207.2 406.2 L208.1 407.3 L209.8 406.9 L210.7 408.0 L211.8 408.7 L212.8 409.4 L213.8 410.2 L215.4 410.1 L216.1 411.3 L217.4 411.6 L218.5 412.3 L219.1 413.7 L220.7 413.5 L222.1 413.6 L222.7 415.1 L224.1 415.5 L225.5 415.6 L226.9 416.1 L227.7 417.6 L228.9 418.1 L230.4 418.3 L231.5 419.1 L233.0 419.2 L233.8 420.6 L235.4 420.5 L236.8 420.7 L237.8 421.7 L239.3 421.8 L240.5 422.4 L241.4 423.8 L242.8 423.8 L244.1 424.1 L245.1 425.0 L246.5 425.2 L247.0 426.7 L248.2 427.3 L249.6 427.4 L250.4 428.6 L252.0 428.5"/>
<path d="M160.2 247.0 L159.5 248.2 L158.7 249.3 L159.0 251.1 L158.1 252.2 L156.6 253.0 L156.5 254.5 L155.9 255.7 L156.5 257.3 L155.0 258.2 L155.0 259.6 L154.1 260.7 L153.4 261.9 L153.0 262.9 L152.5 264.1 L151.8 265.1 L150.0 265.1 L149.6 266.5 L148.5 265.8 L147.6 264.7 L146.0 264.5 L145.1 263.5 L143.7 262.8 L142.9 261.6 L142.6 259.9 L141.6 258.9 L139.8 258.7 L139.0 257.6 L137.6 257.8 L136.2 258.1 L135.1 257.3 L133.8 257.2 L132.9 258.5 L131.6 258.7 L131.8 257.0 L131.9 255.8 L132.5 254.6 L132.2 253.2 L131.8 251.8 L132.9 250.7 L133.3 249.4 L133.3 248.0"/>
<path d="M261.7 247.0 L261.3 248.5 L260.0 249.5 L259.6 251.1 L260.3 251.5 L261.8 251.5 L262.7 252.9 L264.2 252.4 L265.4 253.3 L265.9 254.7 L267.1 255.5 L267.7 257.1 L269.0 257.9"/>
<path d="M269.6 256.9 L269.2 257.5"/>
<path d="M269.2 257.5 L267.9 257.8 L266.7 257.1 L265.4 257.6 L264.2 256.7 L263.0 256.6 L261.7 257.4 L260.5 256.8 L259.2 257.2 L257.9 257.2 L256.8 258.5 L255.4 257.6 L254.2 258.1 L252.9 258.1 L251.7 258.5 L250.4 258.6 L249.2 259.0 L248.1 260.0 L246.6 259.4 L245.2 258.9 L244.2 260.2 L243.1 260.6 L242.3 261.7 L240.9 261.8 L240.0 262.7 L238.4 262.3 L237.6 263.4 L236.4 263.8 L235.3 264.3 L234.6 265.6 L233.4 266.4 L232.3 267.2 L232.0 268.7 L231.5 270.1 L229.8 270.6 L230.3 272.2 L230.1 273.5 L229.2 274.6 L228.8 275.8 L228.6 277.2 L227.4 278.1 L227.1 279.4 L227.7 281.0 L227.2 282.2 L226.5 283.3 L226.6 284.7 L226.1 285.9 L224.6 286.3 L224.1 287.5 L223.4 288.6 L222.2 289.2 L221.7 290.5 L220.1 290.5 L219.9 292.2 L219.3 293.4 L217.9 294.3 L218.0 295.9 L218.1 297.5 L216.4 298.2 L216.8 299.6 L216.7 300.9 L217.0 302.1 L218.3 302.5 L219.7 302.8 L219.5 304.8 L220.5 305.8 L220.8 307.2 L222.2 308.1 L222.3 309.6 L222.5 311.1 L223.7 311.9 L223.7 313.4 L224.9 314.2 L226.0 315.0 L226.5 316.2 L227.8 316.9 L227.7 318.5 L228.3 319.9 L227.2 320.9 L226.9 322.2 L226.4 323.4 L227.8 324.1 L229.0 324.4 L230.4 324.4 L231.6 325.0 L233.2 324.3 L234.1 325.9 L235.3 326.2 L236.3 326.8 L237.4 327.6 L238.0 328.7 L239.2 329.4 L239.1 331.1 L240.4 331.7 L241.7 331.7 L242.9 331.2 L244.2 331.8 L245.5 332.1 L246.6 330.8 L247.9 330.6 L249.2 331.7 L250.4 331.3 L251.7 330.5 L252.9 331.0 L254.3 330.7 L254.8 329.3 L255.3 328.1 L256.7 327.8 L257.9 327.3 L258.7 326.4 L259.5 325.5 L260.6 324.9 L260.6 326.0 L260.4 327.3 L261.7 328.4 L261.7 329.7 L260.5 344.7 L261.7 345.0 L263.0 344.6 L264.2 345.3 L265.5 344.7 L266.8 344.5 L267.9 345.6 L269.3 345.8 L270.5 345.0 L271.7 344.2 L273.0 344.5 L274.2 344.4 L275.4 343.5 L276.9 344.0 L278.1 344.3 L279.2 345.4 L280.4 345.7 L281.8 345.5 L283.0 345.9 L284.3 345.1 L285.8 345.9 L287.3 346.4 L288.6 344.9 L290.0 344.7"/>
<path d="M219.1 294.6 L269.2 303.4 L290.0 320.9"/>
<path d="M275.5 344.7 L276.3 345.7 L276.6 347.0 L277.3 348.0 L278.3 348.9 L278.1 350.4 L278.1 351.7 L279.5 352.5 L280.0 353.6 L280.5 354.7 L281.4 355.7 L281.0 357.3 L281.8 358.3 L282.7 359.2 L282.9 360.5 L284.2 361.2 L284.8 362.3 L284.6 363.8 L285.3 364.9 L285.2 366.1 L284.5 367.2 L284.6 368.6 L283.5 369.7 L282.8 370.8 L283.5 372.4 L282.8 373.5 L282.5 374.8 L282.8 376.1 L282.4 377.3 L281.3 378.4 L281.6 379.8 L282.2 381.0 L282.0 382.3 L282.7 383.5 L283.3 384.7 L282.4 386.1 L282.2 387.5 L282.8 388.8 L281.7 389.8 L281.3 391.2 L280.4 392.3 L279.5 393.4 L279.8 395.1 L278.8 396.1 L278.2 397.3 L278.4 398.7 L278.1 400.0 L276.7 400.9 L276.4 402.2 L277.1 403.6 L278.0 404.7 L277.9 406.1 L278.8 407.2 L278.2 408.8 L279.1 409.9 L279.6 411.2 L281.3 411.4 L281.9 412.6 L281.7 414.3 L282.8 415.0 L282.0 415.9 L282.4 417.5 L281.9 418.7 L281.3 419.9 L281.4 421.3 L280.4 422.4 L279.0 422.6 L278.7 424.1 L277.6 424.7 L276.8 425.7 L276.2 426.9 L274.6 427.0 L273.6 427.7 L273.0 428.9"/>
<path d="M440.3 247.0 L420.3 287.1 L420.3 288.7 L418.7 289.4 L419.1 291.1 L420.6 291.6 L421.4 292.5 L422.2 293.5 L423.3 294.3 L423.2 296.0 L424.7 296.8 L424.5 298.5 L425.7 299.4 L426.2 300.7 L426.6 302.0 L426.0 303.6 L427.3 304.6 L427.8 305.8 L428.4 307.0 L429.1 308.2 L428.5 309.8 L430.2 310.6 L430.6 312.0 L430.4 313.7 L431.4 314.7 L432.3 315.8 L432.7 317.2 L434.1 317.6 L435.2 318.2 L435.9 319.6 L436.7 320.7 L438.2 320.8 L439.5 321.1 L440.4 322.1 L441.2 322.9 L442.4 322.8 L443.2 323.7 L520.0 329.2"/>
<path d="M422.8 294.6 L422.6 295.9 L422.8 297.1 L421.6 298.3 L422.0 299.6 L422.3 300.9 L421.8 302.1 L422.2 303.4 L422.3 304.7 L420.6 305.8 L421.4 307.3 L421.6 308.6 L421.0 309.9 L421.2 311.3 L420.3 312.5 L419.9 313.8 L420.7 315.2 L379.0 315.2"/>
<path d="M379.0 315.2 L377.8 314.4 L376.4 315.1 L375.2 314.4 L373.9 315.0 L372.5 314.1 L371.5 312.9 L370.6 311.6 L369.3 311.1 L368.4 310.0 L367.4 308.9 L365.6 308.7 L365.0 307.3 L364.1 306.2 L362.9 305.3 L361.4 305.1 L360.2 304.7 L358.9 305.3 L357.7 305.9 L356.4 305.0 L355.1 305.0 L353.9 305.2 L352.8 305.8 L351.7 306.5 L350.5 307.1 L350.3 308.9 L348.9 309.2 L348.4 310.3 L348.4 311.5 L347.0 312.3 L346.8 313.5 L347.4 315.0 L346.5 315.9 L345.2 316.7 L344.0 317.4 L342.9 318.3 L341.0 317.6 L340.1 318.8 L338.7 318.0 L337.6 318.9 L336.4 319.8 L335.1 319.6 L333.8 320.4 L333.0 321.9 L331.4 322.2 L330.2 322.9 L328.9 323.2 L327.5 322.6 L326.2 322.7 L325.1 323.8 L323.8 323.8 L322.5 323.9 L321.5 325.1 L320.1 324.7 L318.8 325.0 L317.6 324.7 L316.3 325.0 L315.1 324.9 L313.6 324.8 L312.7 325.7 L312.4 327.4 L311.2 327.9 L310.0 328.4"/>
<path d="M290.0 320.9 L310.0 328.4"/>
<path d="M290.0 345.2 L291.2 344.3 L292.0 343.1 L292.2 341.5 L293.6 340.7 L295.1 341.1 L296.2 340.5 L297.5 340.2 L298.6 339.4 L299.6 338.4 L300.7 337.5 L301.1 335.8 L303.0 336.0 L304.0 334.9 L304.9 334.1 L305.9 333.4 L307.1 332.9 L308.1 332.2 L308.9 331.1 L309.9 330.4 L311.5 330.6 L312.6 329.9 L313.8 329.3 L315.3 330.0 L316.3 329.2 L317.5 328.2 L318.8 328.8 L320.1 329.4 L321.3 329.0 L322.6 328.9 L323.9 329.3 L325.1 328.3 L326.3 327.9 L327.6 328.8 L328.9 328.8"/>
<path d="M327.6 323.4 L328.5 324.5 L328.8 325.8 L328.0 327.3 L328.0 328.6 L328.6 329.7 L328.0 330.9 L329.2 332.2 L329.1 333.4 L328.9 334.7 L329.8 336.0 L329.0 337.2 L328.3 338.5 L329.0 339.7 L329.7 340.8 L328.9 342.3 L329.0 343.6 L329.9 344.7 L330.5 345.9 L330.4 347.2 L330.6 348.5 L331.1 349.7 L330.6 351.1 L330.8 352.4 L332.1 353.2 L333.5 353.6 L333.8 354.9 L333.8 356.6 L335.2 357.0 L336.2 357.7 L336.9 358.7 L337.7 359.7 L339.1 359.6 L339.6 361.2 L340.7 361.7 L341.8 362.3 L342.4 363.6 L343.7 363.8 L345.1 364.0 L346.4 363.7 L347.6 362.7 L348.9 363.5 L350.1 363.6 L351.4 364.0 L352.3 365.4 L353.8 365.5 L355.5 365.4 L356.3 366.8 L357.6 367.4 L358.8 367.8 L359.8 368.6 L361.3 368.4 L362.3 369.1 L363.0 370.5 L364.4 370.4 L365.3 371.5 L366.3 372.3 L367.9 371.8 L368.7 373.1 L369.3 374.4 L371.0 374.2 L372.3 374.7 L373.0 376.0 L374.3 376.3 L375.3 377.1 L376.4 376.7 L377.7 377.7 L379.0 378.2 L380.2 376.9 L381.5 376.6 L382.7 377.1 L384.0 377.4 L385.3 377.0 L386.5 377.7 L387.6 378.9 L388.9 378.6 L390.3 378.0 L391.3 379.2 L391.9 380.2 L392.5 381.3 L392.9 382.4 L393.6 383.5 L393.6 384.9 L394.1 386.1 L395.2 387.1 L395.0 388.5 L394.5 390.0 L395.4 391.1 L396.6 392.2 L396.1 393.5 L395.5 394.9 L396.0 396.1 L397.1 397.2 L395.1 397.9 L393.6 398.2 L392.2 398.5 L393.1 399.8 L393.5 401.2 L394.0 402.7 L395.5 403.4 L395.8 404.9 L396.7 406.0 L395.9 407.7 L396.6 408.9 L397.0 410.2 L397.4 411.5 L398.5 412.7 L421.5 413.6 L421.7 415.0 L420.3 416.0 L420.7 417.4 L420.2 418.6 L420.2 419.9 L421.1 421.0 L421.7 422.2 L421.8 423.7 L422.4 424.9 L423.1 426.1 L424.2 426.6 L425.3 427.6 L426.7 428.0 L428.0 428.5"/>
<path d="M379.0 315.2 L378.4 316.6 L379.6 318.0 L379.6 319.4 L378.4 320.8 L378.7 322.2 L379.4 323.5 L379.4 324.7 L378.2 325.9 L378.0 327.1 L378.7 328.5 L378.6 329.7 L378.4 330.9 L378.0 332.2 L378.8 333.5 L378.4 334.9 L378.8 336.2 L379.1 337.5 L378.6 338.9 L378.5 340.3 L379.6 341.5 L380.3 342.8 L379.6 344.2 L400.2 345.2 L399.8 346.7 L399.6 348.2 L400.7 349.7 L400.0 351.1 L399.0 352.1 L398.8 353.5 L397.4 354.4 L398.9 356.0 L398.8 357.5 L399.8 358.5 L400.3 359.8 L400.9 361.0 L402.2 362.0 L400.9 363.5 L399.6 364.4 L399.9 366.1 L399.7 367.6 L398.0 368.3 L397.1 369.4 L397.1 370.8 L396.5 371.9 L395.8 372.9 L395.0 373.8 L394.5 374.9 L394.5 376.4 L393.2 377.2 L392.8 378.6 L391.0 378.9"/>
<path d="M520.0 377.3 L519.5 378.5 L520.1 379.9 L519.9 381.2 L518.7 382.2 L518.3 383.5 L518.4 384.8 L518.4 386.1 L517.8 387.3 L517.3 388.4 L516.8 389.7 L515.4 390.3 L515.3 391.8 L515.0 393.1 L513.9 394.0 L513.6 395.4 L512.0 395.9 L511.4 397.1 L511.1 398.4 L510.8 399.7 L509.0 399.8 L508.2 400.7 L508.1 402.3 L507.0 402.9 L506.4 404.1 L505.8 405.2 L504.9 406.2 L503.4 406.5 L502.6 407.6 L501.6 408.5 L500.8 409.5 L500.4 411.0 L498.6 411.1 L497.6 412.0 L497.8 413.8 L496.8 414.7 L495.5 415.4 L495.2 416.7 L494.0 417.5 L493.3 418.6 L493.5 420.3 L492.3 421.0 L491.1 421.8 L491.5 423.5 L490.4 424.4 L490.1 425.7 L489.6 426.9 L488.0 427.5 L488.0 428.9"/>
<path d="M440.3 427.9 L441.5 427.1 L443.2 427.3 L444.1 426.1 L445.2 425.1 L446.6 425.0 L447.9 425.4 L449.1 425.1 L450.4 425.1 L451.6 425.8 L452.3 426.6 L453.8 426.4 L455.0 426.7 L455.7 427.8 L456.9 428.1 L458.2 428.3"/>
<path d="M477.9 428.9 L478.9 428.2 L479.6 427.3 L480.4 426.4 L482.1 426.7"/>
<path d="M570.0 247.0 L569.9 248.5 L569.1 249.6 L567.6 250.3 L567.0 251.5 L566.9 253.0 L566.1 254.0 L564.9 254.6 L564.2 255.6 L563.3 256.6 L562.3 257.3 L561.5 258.3 L561.2 259.7 L560.5 260.8 L558.7 261.0 L558.1 262.5 L556.7 262.8 L555.9 264.1 L554.4 264.5 L552.9 264.8 L552.3 266.2 L551.1 267.0 L549.5 267.2 L549.0 268.8 L548.1 269.9 L546.6 270.2"/>
<path d="M546.7 270.3 L547.8 270.7 L548.8 271.8 L550.2 271.1 L551.5 271.0 L552.5 272.2 L553.8 273.0 L553.8 274.7 L553.2 275.5 L553.0 276.7 L553.4 278.1 L552.5 279.1 L552.5 280.3 L552.5 281.8 L550.9 282.1 L550.6 283.4 L549.4 284.0 L548.4 284.8 L548.5 286.3 L547.4 287.2 L546.5 288.3 L544.7 288.2 L543.6 289.2 L542.9 290.5 L541.4 290.8 L541.3 292.5 L539.8 293.3 L540.2 295.0 L539.5 296.2 L539.1 297.5 L538.3 298.7 L539.4 299.8 L539.4 301.3 L539.9 302.7 L540.6 303.9 L540.1 305.6 L540.9 306.9 L539.3 307.6 L538.8 308.9 L538.9 310.5 L537.8 311.5 L538.2 313.1 L536.2 313.5 L536.0 315.2 L534.8 316.0 L533.3 316.4 L532.6 317.6 L531.8 318.8 L531.2 319.9 L530.1 320.8 L529.6 322.0 L528.3 322.7 L528.3 324.3 L528.0 325.6 L526.9 326.5 L525.7 327.4 L525.8 328.8 L526.3 330.4 L525.4 331.4 L524.1 332.3 L523.9 333.6 L524.1 334.9 L523.4 336.0 L522.9 337.2 L523.6 338.6 L523.1 339.7 L522.1 340.7 L522.1 342.0"/>
<path d="M546.7 270.3 L548.0 270.3 L549.3 269.8 L550.7 270.2 L551.9 269.7 L553.1 268.6 L554.5 269.3 L556.0 269.9 L557.0 269.4 L558.1 270.0 L559.4 270.2 L560.8 270.0 L561.5 271.7 L562.5 272.3 L563.0 273.6 L563.9 274.7 L563.4 276.5 L565.2 277.4 L564.8 278.8 L564.1 280.2 L564.6 281.5 L565.2 282.8 L564.7 284.1 L564.6 285.4 L564.2 286.6 L563.2 287.7 L563.5 289.1 L564.1 290.5 L562.8 291.4 L562.0 292.3 L561.7 293.6 L560.6 294.3 L559.5 295.0 L560.8 296.2 L561.1 297.6 L562.5 297.8 L563.7 298.3 L564.2 299.5 L564.6 300.8 L565.9 301.4 L566.7 302.4 L567.5 303.4 L568.8 303.9 L569.1 305.4 L570.5 305.8 L571.8 305.6 L572.9 304.3 L574.1 303.8 L574.9 305.4 L576.1 305.9 L576.9 306.8 L575.8 308.1 L575.4 309.5 L574.2 310.3 L573.0 310.2 L571.8 310.3 L570.9 311.4 L571.1 312.7 L570.5 314.0 L569.5 315.2 L569.3 316.6 L569.5 318.1 L568.5 319.4 L570.0 320.4 L570.6 321.4 L571.3 322.4 L572.9 322.5 L573.9 323.1 L574.0 324.8 L574.5 326.1 L575.8 326.9 L576.3 328.1 L576.2 329.8 L577.8 330.3 L578.2 331.7 L579.5 332.4 L579.7 333.9 L581.3 334.6 L582.7 333.7 L584.0 333.6 L585.3 334.0 L586.7 333.5"/>
<path d="M627.2 247.3 L626.4 248.6 L625.1 249.5 L625.4 251.4 L624.8 252.5 L624.3 253.6 L623.3 254.6 L623.1 255.9 L622.6 257.0 L622.1 258.5 L623.1 259.7 L623.5 261.0 L623.5 262.4 L624.6 263.6 L624.3 264.8 L625.1 265.9 L624.7 267.2 L624.7 268.4 L624.8 269.5 L623.9 270.2 L623.4 271.3 L623.4 272.8 L622.8 273.8 L621.3 274.2 L620.2 274.9 L620.5 276.7 L621.6 277.8 L622.2 279.0 L621.6 280.3 L622.2 281.4 L623.0 282.4 L624.2 283.1 L624.3 284.4 L624.1 286.1 L623.4 287.4 L622.1 288.5 L621.5 289.4 L620.2 289.6 L619.1 290.0 L617.6 289.3 L616.6 290.3 L615.5 290.0 L614.6 288.9 L613.2 289.0 L612.0 288.8 L610.9 288.3 L609.4 288.4 L608.3 289.1 L607.4 290.2 L606.1 290.4 L605.4 291.9 L603.8 291.9 L603.2 293.4 L601.6 293.6 L600.4 294.2 L599.5 295.4 L598.2 296.0 L597.1 296.8 L595.9 297.3 L595.0 298.3 L593.7 298.7 L592.1 298.6 L590.9 299.1 L590.2 300.8 L588.8 301.1 L589.3 302.7 L588.9 304.0 L587.6 304.7 L587.0 305.8 L586.6 307.0 L586.0 308.2 L585.9 309.5 L584.7 310.5 L585.2 312.1 L585.2 313.5 L583.8 314.4 L583.8 315.8 L582.8 316.8 L584.1 318.1 L584.1 319.3 L583.8 320.6 L584.4 321.7 L583.8 323.1 L584.6 324.2 L585.4 325.2 L584.9 326.7 L584.3 328.1 L584.1 329.5 L585.3 331.0 L584.5 332.3 L583.9 333.6 L585.4 334.2 L586.6 334.3"/>
<path d="M642.5 247.0 L643.0 248.1 L643.4 249.3 L643.9 250.5 L644.3 251.6 L645.9 252.3 L645.8 253.7 L646.3 255.0 L645.7 256.5 L645.9 257.9 L646.4 259.2 L646.6 260.6 L647.3 261.9 L646.5 263.4 L647.5 264.5 L648.3 265.6 L647.8 267.0 L648.2 268.3 L648.6 269.5 L648.0 271.0 L649.1 272.0 L649.2 273.3 L648.8 274.6 L650.0 275.7 L649.8 277.0 L650.5 278.2 L651.0 279.4 L650.4 280.8 L650.9 282.0 L651.5 283.3 L651.4 284.8 L652.4 286.0 L652.4 287.5 L654.0 288.4 L654.3 289.3 L654.6 290.7 L655.8 291.2 L654.7 292.2 L655.0 293.7 L655.3 295.1 L653.9 296.1"/>
<path d="M654.2 296.2 L653.5 297.5 L653.5 299.1 L652.4 300.3 L653.0 301.8 L652.9 303.4 L654.7 304.3 L653.4 305.6 L652.7 306.6 L651.4 307.3 L651.2 308.8 L650.5 309.9 L648.8 309.9 L648.3 311.2 L647.4 312.0 L646.0 312.1 L644.7 312.3 L644.1 313.6 L643.4 314.7 L642.3 315.4 L641.6 316.5 L640.0 316.5 L639.2 317.5 L638.8 319.0 L637.7 319.6 L636.9 320.6 L635.5 320.8 L634.5 321.6 L633.6 322.5 L632.2 322.4 L630.7 322.4 L629.9 323.5 L628.9 324.4 L628.0 325.3 L626.4 324.8 L625.2 325.4 L624.2 326.1 L623.1 325.6 L622.0 325.1 L620.7 324.8 L619.9 323.7 L619.2 322.5 L617.7 322.6 L616.5 322.3 L615.4 322.3 L614.5 323.1 L613.6 324.0 L612.2 324.0 L612.9 326.0 L612.0 327.1 L610.7 328.1 L610.5 329.4 L610.4 330.9 L610.5 332.1 L611.5 333.2 L611.8 334.5 L610.1 334.7 L609.8 336.3 L608.9 337.2 L607.8 338.0 L607.1 339.1 L605.3 338.4 L604.1 338.5 L603.0 339.8 L601.8 340.1 L600.3 339.9 L599.2 340.6 L598.9 342.3 L598.0 343.3 L596.7 343.8 L595.3 343.2 L593.9 342.9 L593.0 341.7 L591.8 340.9 L590.9 340.0 L589.7 339.2 L589.5 337.8 L589.0 336.5 L588.2 335.4 L587.5 334.7 L587.1 333.4"/>
<path d="M520.0 329.0 L521.2 329.5 L522.5 329.3 L523.8 328.6 L525.0 328.1 L526.2 329.1 L527.5 329.3"/>
<path d="M586.7 334.0 L585.7 335.0 L584.9 336.3 L583.3 336.6 L582.0 337.3 L581.3 338.7 L580.6 340.0 L579.5 340.8 L578.6 341.9 L578.1 343.4 L577.6 344.3 L576.7 345.3 L575.2 346.0 L575.4 347.5 L575.4 348.8 L575.5 349.8 L576.5 350.5 L577.9 350.7 L578.4 351.9 L579.3 352.9 L580.8 352.7 L581.7 353.6 L580.5 354.2 L579.2 354.3 L578.3 355.2 L578.5 356.7 L578.5 358.0 L578.8 359.3 L579.9 360.6 L579.5 362.0 L579.3 363.2 L578.9 364.5 L579.6 365.6 L580.5 366.7 L580.3 368.0"/>
<path d="M685.0 254.5 L686.0 255.5 L686.6 256.9 L688.3 257.2 L689.4 258.1 L689.9 259.6 L691.3 260.0 L691.5 261.8 L692.9 262.1 L693.8 263.1 L694.9 263.8 L696.0 264.2 L697.3 263.9 L698.4 264.1 L699.9 264.4 L700.7 265.8 L701.7 266.7 L702.9 267.3 L703.8 268.5 L705.2 266.9 L706.5 267.6 L707.8 268.0 L708.8 267.1 L710.0 267.0 L711.3 266.9 L712.6 266.1 L714.0 267.4 L715.4 267.2 L716.7 266.6 L718.1 267.0 L719.4 267.6 L720.7 268.2 L721.0 269.1 L722.0 270.0 L723.5 270.5 L723.7 271.8 L723.4 273.4 L723.6 274.7 L725.1 275.6 L725.8 276.7 L725.2 278.3 L725.3 279.7 L725.5 281.0 L726.3 282.2 L727.3 283.4 L727.4 284.8 L727.5 286.2 L727.5 287.5 L728.3 288.6 L728.0 290.1 L729.1 291.1 L730.0 292.2 L729.6 293.7 L729.8 295.1 L729.5 296.4 L729.1 297.8 L730.0 299.3 L729.6 300.6 L728.4 302.0 L728.5 303.1 L728.0 304.2 L728.5 305.6 L728.7 306.9 L728.1 308.0 L727.8 309.1 L727.9 310.4 L727.1 311.5 L726.1 312.4 L725.8 313.7 L724.6 314.4 L724.4 315.7 L724.7 317.2 L723.5 318.0 L723.2 319.3 L721.9 319.8 L721.6 321.0 L720.4 321.6 L719.6 322.5 L719.7 324.4 L718.4 325.1 L717.5 326.2 L716.6 327.2 L715.3 328.0 L715.2 329.6 L714.7 331.0 L713.0 331.5 L712.4 332.8 L711.5 333.8 L710.4 334.7 L710.4 336.4 L708.8 336.7 L707.8 337.7 L707.0 338.9 L705.0 338.4 L704.2 339.8 L702.7 340.0 L701.9 341.5 L701.1 342.4 L700.3 343.4 L699.1 344.1 L698.6 345.4 L697.1 345.8 L696.1 346.8 L696.3 348.3 L696.2 349.6 L695.2 350.5 L694.5 351.5 L694.5 352.9 L693.4 353.7 L693.2 355.0 L692.1 355.8 L691.7 356.9 L691.1 358.0 L690.0 358.8 L689.2 359.8 L689.2 361.2 L688.9 362.6 L687.1 363.1 L686.9 364.4 L686.3 365.7 L685.3 366.6 L685.5 368.3"/>
<path d="M695.0 263.7 L694.0 264.3 L692.7 264.7 L692.5 266.1 L691.9 267.3 L690.9 267.9 L689.8 268.8 L689.5 270.2 L688.9 271.3 L688.1 272.5 L688.0 273.9 L687.1 275.0 L686.8 276.4 L685.3 277.1 L684.1 277.9 L684.0 279.4 L683.2 280.5 L682.1 281.2 L680.6 281.5 L680.3 283.2"/>
<path d="M680.0 282.8 L679.1 283.8 L679.3 285.2 L679.8 286.6 L679.1 287.6 L677.8 288.5 L677.8 290.0 L677.2 291.3 L677.9 292.9 L678.5 293.8 L679.5 294.8 L679.3 296.7 L679.5 297.5 L678.9 298.8 L679.3 300.4 L678.0 300.9 L676.6 300.8 L675.7 301.9 L674.7 302.9 L673.2 302.6 L671.8 302.6 L671.3 300.9 L670.0 300.4 L668.4 300.2 L667.7 299.0 L667.4 297.3 L666.1 296.9 L664.8 296.4 L663.8 296.4 L662.6 297.2 L661.3 296.8 L659.9 296.0 L658.7 296.8 L657.5 296.4 L656.3 295.8 L654.9 296.9"/>
<path d="M680.0 282.8 L681.3 283.2 L682.7 283.0 L683.9 283.6 L684.8 285.0 L686.2 284.2 L687.5 283.9 L688.3 282.4 L689.5 282.1 L691.1 282.5 L691.9 280.8 L693.6 281.3 L695.0 281.0 L696.2 280.0 L697.7 280.0 L698.1 280.7 L698.3 282.0 L698.2 283.3 L696.7 283.8 L695.6 284.5 L695.8 286.1 L695.7 287.4 L695.8 288.2 L697.3 288.5 L698.5 289.2 L699.7 289.0 L700.7 290.0 L701.7 291.0 L703.0 290.9 L704.2 291.2 L704.9 290.3 L705.8 289.5 L706.6 288.6 L706.5 287.5 L706.8 286.3 L707.2 285.2 L706.6 284.0 L707.9 283.9 L708.7 282.8 L709.9 282.5 L711.4 283.0 L712.6 283.9 L714.1 283.7 L715.5 284.1 L716.4 285.7 L718.1 284.6 L719.2 286.0 L720.6 285.9 L722.1 285.6 L723.3 286.1 L724.8 286.2 L726.2 286.3 L727.5 286.8"/>
<path d="M679.2 300.3 L680.5 301.1 L682.0 300.8 L683.3 301.3 L684.4 299.9 L686.1 300.4 L687.3 299.6 L688.8 299.6 L690.2 299.1 L690.9 297.4 L692.1 297.1 L693.7 297.6 L694.7 296.8 L695.8 296.0 L696.9 296.6 L698.1 296.6 L699.0 297.5 L698.8 298.3 L697.6 299.2 L698.1 300.8 L698.2 302.2 L698.3 303.1 L698.6 304.2 L697.9 305.5 L697.9 306.7 L698.5 307.8 L699.8 307.8 L700.7 308.6 L701.4 310.1 L702.7 308.7 L703.9 308.1 L704.3 306.6 L705.4 305.8 L707.0 305.8 L707.8 304.2 L709.3 304.3 L710.5 303.4 L712.1 303.7 L713.5 303.3 L714.7 302.5 L716.0 301.7 L717.0 300.6 L718.9 301.5 L720.0 300.3 L721.2 299.7 L722.5 299.5 L723.8 299.1 L725.0 298.6 L726.1 299.2 L727.1 299.6 L728.3 299.6"/>
<path d="M644.2 313.7 L645.1 314.6 L646.1 315.5 L647.5 315.9 L648.5 316.8 L648.6 318.4 L649.4 319.5 L649.6 320.9 L651.1 321.8 L651.6 323.0 L651.2 324.7 L652.8 323.5 L654.4 323.7 L655.5 322.9 L656.7 322.1 L657.6 321.0 L659.2 320.6 L659.1 318.5 L660.6 318.0 L661.4 316.7 L662.9 316.7 L663.8 315.9 L664.5 314.7 L665.7 314.5 L666.6 313.7 L667.1 312.2 L668.8 312.6 L670.2 312.7 L671.0 313.1 L672.5 313.2 L673.6 314.2 L674.9 314.7 L676.2 314.9 L677.0 316.2 L678.6 315.8 L679.8 316.1 L680.8 317.0 L681.8 317.8 L682.9 318.3 L684.3 318.2 L685.3 319.0 L686.3 319.0 L687.4 318.1 L688.7 317.5 L690.3 317.6 L691.3 317.4 L692.6 317.5 L693.8 318.2 L695.3 317.9 L696.0 319.4 L697.3 319.6 L698.2 320.6 L699.2 321.4 L700.8 320.9 L701.7 321.9 L703.1 322.1 L704.2 321.3 L705.4 320.8 L706.8 320.8 L707.5 319.2 L708.9 319.2 L710.3 319.3 L711.2 318.2 L712.1 317.3 L713.3 316.9 L714.4 316.3 L715.7 316.8 L716.9 316.4 L718.0 315.9 L719.3 316.4 L720.6 315.7 L721.9 316.2 L723.3 316.1"/>
<path d="M685.0 319.5 L684.8 321.0 L686.0 322.2 L685.7 323.7 L686.9 324.4 L688.3 324.7 L689.1 326.0 L690.2 326.8 L692.1 326.3 L693.0 327.1 L693.5 328.8 L694.7 329.2 L696.3 328.9 L697.4 329.4 L698.2 330.6 L699.2 331.2 L700.3 331.7 L701.1 332.7 L702.0 333.4 L703.4 333.5 L704.6 333.9 L705.2 335.2 L705.4 336.4 L705.5 337.7 L706.3 338.6"/>
<path d="M685.8 323.7 L686.0 325.0 L687.1 326.0 L687.4 327.3 L687.0 328.8 L688.2 329.9 L688.5 331.3 L689.0 332.6 L690.3 333.5 L689.3 334.8 L689.0 335.9 L689.8 337.2 L690.0 338.4 L689.2 339.5 L688.5 340.5 L687.1 340.7 L686.8 342.1 L686.4 343.4 L686.0 344.2 L685.7 345.6 L686.3 347.0 L686.3 348.4 L687.7 349.1 L688.4 350.3 L689.5 350.8 L690.6 351.4 L691.8 351.8 L692.8 351.9 L693.8 351.4 L694.6 350.5"/>
<path d="M522.5 340.0 L522.6 341.3 L521.5 342.4 L521.9 343.7 L522.7 345.1 L522.2 346.3 L521.7 347.5 L522.0 348.8 L521.5 350.0 L521.7 351.3 L521.6 352.5 L522.7 353.7 L522.3 355.0 L521.6 356.3 L522.5 357.5 L522.1 358.8 L522.7 360.0 L522.3 361.3 L523.1 362.5 L522.8 363.8 L523.1 365.0 L523.7 366.2 L523.1 367.5 L522.5 368.8 L523.2 370.0 L522.5 371.1 L523.1 372.4 L523.0 373.7 L522.4 374.8 L522.3 376.0 L522.4 377.2 L521.3 378.3 L520.5 379.5 L521.5 381.1 L520.5 382.3 L520.6 383.7 L519.7 384.9"/>
<path d="M523.3 367.5 L524.5 368.0 L525.9 367.7 L527.1 368.3 L528.4 368.1 L529.2 369.6 L530.7 369.7 L531.9 370.2 L533.1 370.8 L534.4 371.3 L535.6 371.6 L536.2 373.1 L537.1 373.8 L538.4 374.1 L538.7 372.7 L540.0 371.6 L540.2 370.1 L541.4 370.0 L542.4 369.1 L543.7 369.0 L545.0 368.6 L545.3 370.0 L546.9 370.4 L548.0 371.0 L548.2 372.5 L549.2 373.3 L550.6 372.9 L551.8 373.8 L553.3 373.1 L554.4 374.6 L555.8 374.4 L557.2 374.3 L558.4 374.7 L559.6 375.3 L560.9 375.7 L561.6 374.7 L563.0 374.0 L563.1 372.3 L564.7 372.3 L566.0 371.9 L567.2 371.1 L568.6 370.7 L570.2 371.6 L571.4 371.2 L572.7 370.8 L573.9 369.5 L575.2 369.3 L576.8 370.2 L577.9 369.7 L579.2 369.9"/>
<path d="M580.0 368.0 L579.5 369.0 L579.3 370.1 L579.6 371.3 L580.0 372.5 L580.5 373.7 L581.2 374.9 L580.3 376.3 L580.1 377.6 L579.3 378.9 L580.1 380.5 L579.5 381.7 L580.1 382.6 L581.0 383.4 L581.0 384.8 L581.1 386.2 L583.0 386.7 L583.7 388.1 L583.4 389.7 L583.4 391.0 L582.2 392.3 L583.1 393.7 L583.6 395.0 L582.3 396.2 L582.4 397.5 L582.1 398.7 L581.6 399.9"/>
<path d="M582.0 400.0 L581.3 398.7 L581.2 397.2 L579.9 396.2 L578.8 395.2 L578.0 394.5 L576.6 394.6 L576.0 393.0 L575.4 394.8 L574.2 395.9 L574.1 397.5 L573.0 397.5 L572.0 398.1 L571.0 399.1 L570.5 399.8 L571.0 401.2 L570.7 402.7 L571.5 404.2 L570.7 405.6 L571.8 406.9 L571.7 408.3 L570.4 408.9 L568.9 408.4 L567.6 409.2 L566.4 410.1 L565.0 410.0 L564.7 411.2 L564.8 412.5 L565.0 413.9 L563.7 414.9 L564.2 416.4 L564.4 417.8 L565.1 419.0 L565.0 420.5 L566.1 421.6 L565.3 422.8 L564.5 423.8 L564.3 425.1 L563.1 425.9 L562.4 426.9 L562.9 428.5 L562.8 429.7 L563.6 430.9 L564.1 432.2 L565.6 433.1 L564.7 434.6 L564.5 435.8 L563.6 437.0 L564.6 438.4 L563.4 439.4 L562.0 439.4 L561.2 440.3 L560.1 441.0 L558.8 441.1 L558.1 441.1 L556.8 441.4 L555.7 440.8 L554.4 441.4 L553.3 441.3 L551.9 441.1 L550.6 441.2 L549.2 440.8 L547.8 441.0 L546.4 440.1 L545.0 441.0 L543.7 441.3 L542.3 441.4 L541.2 442.6 L539.6 442.1 L538.3 442.4 L537.0 442.2 L536.0 443.0 L534.7 442.9 L533.5 442.9 L532.4 444.0 L531.3 444.7 L530.0 444.1 L528.8 444.9 L527.1 444.6 L526.0 445.6 L525.3 447.2 L524.1 447.8 L522.7 448.4 L522.3 450.0 L521.6 451.2 L519.8 451.4"/>
<path d="M524.7 368.3 L524.6 366.9 L526.0 366.2 L526.2 364.9 L527.6 364.2 L528.6 363.3"/>
<path d="M582.0 400.0 L583.3 399.5 L584.7 399.4 L585.4 398.0 L586.8 397.8 L587.7 396.6 L588.4 395.2 L590.2 395.3 L591.0 394.0 L592.5 393.7 L593.5 392.8 L594.1 391.2 L595.5 391.1 L596.7 390.5 L597.7 389.6 L599.1 389.3 L600.4 389.0 L601.3 388.5 L602.4 387.9 L603.3 386.7 L604.6 386.9 L605.8 386.5 L607.1 387.1 L608.4 387.4 L609.8 387.2 L610.7 388.8 L609.9 389.7 L611.1 391.1 L611.2 392.5 L612.0 393.2 L613.6 392.5 L614.7 393.5 L615.7 394.7 L617.3 393.8 L618.5 392.8 L620.0 392.6 L621.1 393.1 L622.4 393.2 L623.2 394.4 L624.7 394.3 L625.8 394.8 L626.3 396.5 L627.6 396.9 L628.9 397.4 L630.6 397.1 L631.5 398.3 L632.2 399.7 L633.7 398.8 L635.1 399.4 L636.3 399.0 L637.4 397.8 L638.4 399.3 L639.1 400.6 L640.7 400.8 L642.1 401.1 L642.0 403.1 L643.7 403.8 L643.7 405.4 L643.8 406.9 L645.4 406.7 L646.6 405.7 L647.9 406.2 L649.2 406.7 L650.4 405.9 L651.7 406.3 L652.9 406.5 L654.3 406.5 L655.7 406.8 L656.9 407.7 L658.3 407.7 L659.1 408.4 L659.6 409.6 L661.0 409.9 L662.2 410.3 L662.4 411.8 L662.1 412.9 L662.1 414.3 L661.1 415.2 L660.8 416.5 L660.3 417.6 L659.2 418.4 L658.6 419.4 L657.6 420.1 L656.2 420.4 L655.6 421.4 L655.1 422.9 L654.5 424.1 L653.7 425.3 L653.4 426.7 L654.1 427.9 L654.0 429.5 L655.1 430.5 L656.7 431.2 L656.5 433.0 L658.1 433.1 L659.5 433.5 L660.0 435.0 L661.5 435.5 L661.5 437.5 L663.1 437.9 L663.9 439.1 L665.5 439.5"/>
<path d="M660.0 435.0 L658.7 435.5 L657.3 434.6 L656.0 434.4 L654.7 435.2 L653.3 435.4 L651.9 434.9 L650.9 436.1 L649.9 437.1 L648.4 437.0 L647.1 437.6 L647.0 439.1 L646.4 440.4 L645.9 441.7 L646.5 442.8 L647.3 443.9 L646.6 445.6 L647.1 446.8 L646.7 447.9 L646.4 449.5 L645.3 450.6 L646.5 451.9 L646.9 453.2 L646.7 454.6 L648.1 455.4 L649.0 456.4 L647.7 458.0 L647.6 459.5 L647.5 461.0"/>
<path d="M706.7 340.0 L705.7 341.0 L704.1 341.0 L703.1 341.9 L702.0 342.6 L700.6 342.9 L700.7 344.7 L699.4 345.3 L698.4 346.0 L698.1 347.2 L696.9 347.9 L696.4 349.0 L696.2 350.3 L694.9 351.1 L695.2 352.6 L695.0 353.9 L693.8 354.7 L693.6 356.0 L691.9 356.5 L691.9 358.0 L691.7 359.5 L690.5 360.2 L689.7 361.3 L689.1 362.5 L688.5 363.5 L687.8 364.4 L687.4 365.6 L686.9 366.7 L685.3 367.1 L684.5 368.0 L684.1 369.1 L683.8 370.4 L682.6 370.9 L681.6 371.6 L680.3 372.2 L678.8 371.9 L677.5 372.4 L677.2 373.8 L675.7 374.0 L674.6 374.6 L674.2 375.9 L673.5 377.3 L673.7 378.8 L674.4 380.2 L674.1 381.7 L674.1 383.1 L674.2 384.5 L673.7 385.8 L672.8 387.1 L673.7 388.6 L674.0 390.1 L674.3 391.3 L673.3 392.8 L673.5 394.2 L674.5 395.5 L674.1 397.0 L675.1 398.3 L674.0 399.7 L675.1 400.8 L675.5 402.0 L675.2 403.3 L675.7 404.5 L675.2 405.9 L675.0 407.2 L676.4 408.3 L675.8 409.6 L674.5 410.5 L674.8 411.8 L675.5 413.2 L675.2 414.4 L674.2 415.4 L673.8 416.6 L673.8 417.8 L673.6 419.1 L672.9 420.2 L673.3 421.5 L673.1 422.8 L672.2 423.8 L671.1 424.8 L672.0 426.3 L671.5 427.5 L672.2 428.8 L672.6 430.0 L671.5 431.2 L670.8 432.5 L671.4 434.0 L670.5 435.1 L668.7 435.5 L668.3 436.9 L667.5 437.9 L666.4 438.7 L665.9 440.0 L665.6 441.4 L665.9 442.8 L665.3 444.2 L664.4 445.5 L665.2 447.0 L664.5 448.3 L665.0 449.7 L664.8 451.0 L665.0 452.3 L664.6 453.7 L664.5 455.0 L664.6 456.3 L663.3 457.2 L662.5 458.3 L662.8 460.1 L662.0 461.2"/>
<path d="M688.3 340.0 L687.2 340.8 L687.2 342.5 L686.0 343.3 L684.8 344.0 L685.6 345.3 L685.7 346.6 L685.9 347.9 L687.3 348.7 L688.2 349.7 L688.7 350.5 L689.7 351.2 L690.9 351.8 L692.3 351.6 L693.7 351.7 L694.6 351.7 L695.6 350.6"/>
<path d="M251.7 429.0 L252.0 430.3 L251.9 431.7 L252.8 432.8 L253.8 433.6 L254.8 434.4 L256.5 434.3 L257.1 435.5 L257.7 436.8 L258.8 437.5 L260.1 437.6 L261.0 438.5 L261.9 439.4 L263.5 439.0 L264.5 439.8 L264.6 441.5 L264.2 442.8 L264.7 444.0 L264.4 445.4 L264.7 446.6 L266.0 447.7 L265.4 449.1 L264.7 450.4 L265.6 451.6 L266.6 452.7 L266.3 454.0 L265.6 455.4 L265.8 456.6 L266.4 457.8 L266.4 459.1 L266.5 460.3 L266.8 461.6 L267.0 462.8 L266.6 464.1 L267.1 465.3 L267.3 466.6 L266.4 467.8 L266.9 469.1 L266.3 470.3 L266.3 471.6 L267.2 472.8 L266.8 474.1 L266.9 475.4 L266.6 476.7 L267.5 477.8 L268.5 479.0 L267.8 480.4 L267.7 481.7 L267.9 482.9 L267.8 484.1 L268.2 485.5 L267.0 486.6 L266.9 487.8 L267.0 489.1 L266.4 490.3 L267.1 491.7 L265.9 492.8 L266.0 494.1 L266.0 495.4 L265.2 496.5 L266.2 498.0 L265.9 499.2 L265.1 500.4 L265.4 501.7 L264.0 502.6 L262.8 502.7 L261.5 502.3 L260.5 502.9 L259.8 504.2 L260.0 505.4 L261.0 506.7 L260.8 507.9 L261.5 508.3 L262.5 508.6 L263.7 508.6 L264.1 510.5 L263.4 511.7 L262.4 512.9 L262.2 514.1 L262.9 515.5 L262.8 516.7 L261.6 517.9 L262.4 519.2 L262.8 520.5 L262.2 521.7 L261.8 522.9 L262.2 524.2 L261.4 525.4 L261.7 526.7 L262.3 527.9 L261.6 529.3 L262.2 530.5 L262.7 531.7 L261.2 532.4 L261.7 534.1 L260.8 534.9 L259.7 535.6 L259.4 536.9 L259.4 538.0 L259.5 539.2 L259.5 540.5 L260.3 541.7 L259.1 543.1 L259.8 544.3 L259.9 545.6 L259.0 546.7 L259.4 548.1 L258.1 549.1 L258.6 550.5 L259.0 551.9 L257.9 553.0 L257.2 554.2 L256.9 555.5 L257.1 557.1 L255.5 557.9 L255.4 559.5 L256.7 560.5 L256.3 561.9 L256.2 563.0 L256.6 564.6 L254.9 565.4 L255.0 566.8 L254.1 567.9 L254.2 569.3 L253.4 570.4 L252.9 571.7 L253.1 573.1 L252.6 574.4 L252.0 575.5 L252.0 576.9 L250.5 577.4 L250.2 578.8 L249.8 580.2 L248.7 580.9 L249.0 581.8 L249.6 583.0 L249.1 584.5 L250.0 585.6 L249.8 587.1 L251.0 588.1 L250.3 589.4 L249.8 590.7 L250.8 591.9 L251.5 593.1 L250.7 594.6 L249.1 595.0 L247.9 595.7 L247.6 597.2 L246.7 598.2 L246.8 599.4 L246.5 600.7 L246.2 601.9 L246.8 603.2 L245.5 604.3 L245.9 605.8 L246.8 606.9 L246.7 608.3 L247.9 609.4 L247.3 610.9"/>
<path d="M264.2 440.3 L265.4 439.7 L266.7 439.9 L267.9 439.0 L269.2 438.8 L270.6 438.6 L271.8 438.0 L272.2 436.7 L272.5 435.5 L271.8 434.2 L272.2 433.1 L273.3 432.1"/>
<path d="M273.0 429.0 L273.4 430.5 L272.5 432.0 L273.8 432.9 L274.7 433.8 L275.9 434.0 L276.6 435.2 L278.3 434.9 L277.9 436.7 L279.0 437.7 L279.1 439.1 L280.1 440.1 L280.2 441.5 L279.7 443.0 L281.2 443.9 L281.2 445.3 L281.6 446.5 L282.4 447.6 L282.2 449.0 L281.6 450.5 L283.6 451.2 L285.0 451.7 L285.3 453.5 L286.8 454.0 L287.8 454.6 L289.0 454.6 L290.0 455.4"/>
<path d="M290.0 455.3 L289.1 456.3 L288.3 457.4 L287.3 458.3 L286.8 459.6 L285.9 460.7 L285.7 461.6 L286.6 462.7 L286.2 464.1 L286.4 465.4 L286.7 466.6 L286.3 468.1 L285.1 469.1 L284.5 470.5 L284.8 471.5 L285.2 472.8 L286.6 473.3 L287.2 474.4 L288.1 475.3 L289.1 475.8 L290.3 476.1"/>
<path d="M290.0 521.7 L289.0 522.9 L288.2 524.1 L288.1 525.8 L287.7 526.7 L288.6 527.9 L288.1 529.2 L288.0 530.5 L288.5 531.7 L287.8 532.9 L288.1 534.4 L287.1 535.5 L287.4 537.0 L287.2 538.0 L286.8 539.4 L287.6 540.6 L288.6 541.6 L288.6 543.0 L287.5 544.1 L288.5 545.6 L288.3 546.8 L287.6 548.0 L287.9 549.3 L288.7 549.9 L289.4 551.1 L289.6 552.6 L288.8 552.7 L288.5 554.3 L287.3 554.8 L285.9 555.0 L285.2 556.0 L284.0 556.4 L283.6 558.0 L282.8 559.2 L282.7 560.7 L282.1 562.0 L280.8 562.9 L279.8 564.0 L280.2 565.5 L278.7 566.1 L278.5 567.4 L278.1 568.6 L277.0 569.3 L277.3 570.9 L275.7 571.5 L275.2 573.0 L273.3 573.2 L272.6 574.4 L271.6 575.4 L271.3 576.8 L271.7 578.3 L271.0 579.4 L269.7 580.4 L269.9 581.8 L269.8 583.2 L268.9 584.3 L268.6 585.7 L268.4 587.0 L269.1 587.9 L268.7 589.4 L269.1 590.6 L269.3 591.9 L268.8 593.3 L269.9 594.4 L269.7 595.6 L268.7 596.4 L268.0 597.4 L267.8 598.6 L266.4 599.2 L266.6 600.8 L265.7 601.9 L265.4 603.2 L263.9 604.1 L264.5 605.8 L264.0 607.2 L263.0 608.3 L262.8 609.8 L261.4 610.8"/>
<path d="M432.8 435.3 L432.9 436.6 L431.5 437.6 L431.8 439.0 L432.2 440.3 L431.6 441.5 L431.4 442.9 L431.2 444.2 L430.3 445.3 L430.2 446.7 L429.5 447.8 L428.2 448.7 L429.1 450.5 L428.1 451.6 L427.5 452.8 L427.1 454.1 L426.4 455.3 L425.3 456.3 L424.9 457.7 L424.1 458.8 L424.0 460.6 L423.2 461.8"/>
<path d="M422.8 461.6 L415.3 456.1 L407.8 453.6 L400.2 452.8 L390.2 454.6 L380.2 458.6 L373.9 463.6 L370.2 470.3 L369.7 479.1 L366.4 487.9 L364.7 490.4"/>
<path d="M364.7 490.4 L363.7 489.4 L362.7 488.3 L348.1 488.4 L347.1 489.3 L346.8 490.6 L346.3 491.8 L345.6 492.9 L345.7 494.5 L344.5 495.3 L344.9 497.0 L343.8 498.0 L342.8 499.0 L342.4 500.3 L342.4 499.2 L341.6 498.1 L340.6 497.2 L340.2 496.0 L340.6 494.4 L339.6 493.4 L338.5 492.5 L338.3 491.1 L338.2 489.6 L336.4 489.5 L335.1 489.4 L333.8 490.4 L332.6 489.9 L331.3 490.1 L330.1 490.2 L328.8 489.1 L327.6 489.7 L326.3 489.3 L325.1 489.3 L323.9 489.0 L322.7 488.3 L321.4 487.8 L320.0 487.3 L319.6 485.6 L318.3 485.1 L316.7 486.0 L316.3 487.3 L316.0 488.8 L314.8 489.5 L313.4 490.1 L312.8 491.2 L311.9 492.0 L310.7 492.5 L310.1 493.7 L309.0 494.4 L308.1 495.4 L308.1 496.9 L307.1 498.0 L305.6 498.8"/>
<path d="M306.3 499.2 L305.0 499.0 L303.8 499.6 L302.5 498.8 L301.3 499.0 L300.0 499.8 L298.8 499.5 L297.5 500.0 L297.5 498.4 L297.0 497.3 L296.3 496.4 L296.2 495.1 L295.9 494.0 L295.0 493.0 L295.4 491.6 L294.7 490.4 L295.4 489.0 L294.1 487.9 L293.6 486.7 L294.0 485.4 L293.4 484.2 L293.2 482.9 L293.6 481.4 L292.6 480.3 L291.7 479.2 L291.6 477.9 L290.8 476.7 L291.1 475.1 L290.0 474.1"/>
<path d="M306.3 499.2 L306.4 500.4 L306.3 501.7 L306.3 502.9 L306.7 504.3 L305.8 505.4 L304.7 506.5 L305.3 507.9 L305.6 509.3 L304.7 510.4 L304.6 511.7 L304.6 513.0 L303.3 514.0 L303.2 515.3 L302.6 516.1 L301.5 517.1 L299.8 516.5 L298.8 517.6 L297.5 518.1 L296.4 519.1 L295.1 519.5 L293.7 519.7 L292.2 519.9 L291.5 521.5 L290.2 522.1"/>
<path d="M364.7 490.4 L365.5 491.5 L366.5 492.5 L367.3 493.6 L368.8 494.2 L369.7 495.2 L369.7 497.1 L371.3 497.3 L371.7 498.7 L373.2 499.0 L374.1 499.9 L374.2 501.6 L375.3 502.3 L376.6 502.8 L377.7 503.5 L378.3 505.0 L379.8 505.2 L380.7 506.2 L381.9 506.8 L383.4 507.0 L383.9 508.7 L384.9 509.6 L386.1 510.2 L387.5 510.3 L388.3 511.3 L389.5 511.9 L391.2 511.5 L392.0 512.6 L392.6 514.0 L393.9 514.3 L395.1 515.1 L396.5 514.7 L397.8 514.8 L399.0 515.2 L400.3 515.0 L401.4 515.9 L402.2 516.9 L403.7 516.9 L404.9 517.2 L405.6 518.6 L406.4 519.5 L407.7 519.8 L408.9 520.2 L410.0 520.9 L410.7 522.2 L412.3 521.7 L413.5 522.2 L414.5 523.0 L415.8 523.2 L416.8 524.0 L417.5 525.4 L419.2 524.6 L420.1 526.2 L421.5 526.2 L422.9 526.4 L424.0 527.1 L425.6 526.8 L426.4 528.4 L427.6 528.7 L428.6 529.4 L429.6 530.1 L430.0 531.7 L431.5 531.8 L431.7 532.9 L430.8 533.9 L430.5 535.0 L431.1 536.3 L430.0 537.1 L429.5 538.3 L428.4 539.0 L427.0 539.2 L426.2 540.1 L425.6 541.6 L426.0 543.2 L425.6 544.5 L424.3 545.4 L424.2 546.8 L423.4 547.8 L422.4 548.7 L421.5 549.6 L421.7 551.3 L420.6 552.0 L420.0 553.1 L418.8 553.7 L418.4 554.9 L417.1 555.4 L417.6 557.2 L419.2 557.9 L420.3 557.5 L421.5 558.6 L422.8 558.1 L424.0 559.0 L425.3 558.1 L426.6 557.9 L427.8 558.9 L429.1 558.7 L430.3 559.2 L431.6 559.1 L432.8 559.3 L434.1 559.1 L435.3 559.6 L436.5 560.4 L437.8 560.2 L439.2 559.6 L440.4 560.3 L441.5 560.0 L442.8 559.7 L444.3 560.1 L445.4 559.2 L446.4 558.0 L447.8 559.1 L449.2 559.0 L450.2 560.3 L451.6 559.9 L452.7 558.8 L453.9 558.2 L455.7 558.7 L456.6 557.2 L458.0 556.9 L459.1 556.3 L459.9 555.1 L460.9 554.4 L462.5 554.5 L463.6 553.7 L464.2 552.3 L465.0 551.2 L466.0 550.7 L467.2 550.0 L467.2 548.6 L467.2 547.2 L468.7 546.6 L468.7 545.3 L469.8 544.3 L469.6 543.0 L470.5 541.9 L470.0 540.5 L469.7 539.1"/>
<path d="M422.8 461.6 L423.6 462.7 L424.9 463.7 L424.4 465.4 L424.9 466.8 L425.6 467.8 L425.6 469.2 L426.8 470.2 L427.1 471.5 L426.3 473.0 L427.1 474.1 L427.0 475.3 L427.2 476.6 L426.0 477.8 L426.7 479.1 L426.8 480.4 L426.6 481.6 L427.3 482.9 L426.5 484.3 L426.8 485.7 L426.1 487.1 L425.8 488.5 L426.9 489.9 L427.8 490.0 L429.2 489.7 L430.3 490.8 L431.6 490.7 L432.8 491.0 L434.0 491.7 L435.3 491.6 L436.6 491.1 L437.8 491.0 L439.1 491.5 L440.3 490.6 L441.6 490.7 L442.8 491.7 L444.1 491.0 L445.5 491.3 L446.6 490.3 L447.6 491.6 L449.1 491.6 L450.5 491.6 L451.6 492.5 L453.0 492.8 L454.1 493.8 L455.1 494.8 L456.2 495.3 L455.3 496.8 L456.3 497.9 L456.3 499.2 L457.4 500.3 L457.2 501.6 L456.9 503.0 L458.1 504.1 L457.7 505.5 L458.5 506.6 L458.6 507.9 L458.2 509.3 L458.4 510.6 L460.3 511.4 L459.7 513.0 L460.4 514.2 L461.6 514.7 L462.9 513.5 L464.1 514.1 L465.4 514.5 L466.6 514.1 L467.9 514.8 L469.2 514.8 L470.4 514.5 L471.6 513.5 L472.9 513.5 L474.2 513.7 L473.8 515.0 L473.7 516.4 L473.0 517.6 L473.6 519.1 L473.9 520.5 L472.8 521.7 L473.4 523.1 L472.4 524.2 L471.9 525.4 L472.1 526.8 L471.3 527.9 L470.8 529.1 L471.8 530.6 L471.7 531.9 L470.8 533.0 L470.9 534.2 L470.0 535.4 L470.0 536.7 L471.0 538.0 L470.8 539.3"/>
<path d="M470.4 539.2 L471.5 538.2 L471.8 536.5 L472.8 535.4 L474.1 536.0 L475.3 536.4 L476.7 536.1 L477.9 536.1 L478.8 537.2 L479.4 538.4 L480.8 539.0 L480.7 540.6 L482.2 541.5 L481.6 543.0 L481.9 544.3 L482.6 545.4 L482.8 546.8 L481.5 548.0 L481.9 549.3 L481.7 550.5 L481.9 551.8 L482.5 553.1 L481.6 554.3 L481.6 555.5"/>
<path d="M481.7 555.5 L480.5 556.2 L479.5 557.3 L477.7 556.5 L476.5 557.1 L475.4 558.1 L474.2 558.8 L473.0 559.4 L471.7 560.0 L470.6 560.9 L468.8 560.4 L467.9 561.9 L466.9 562.5 L465.7 563.0 L464.9 563.9 L464.6 565.4 L463.4 565.9 L462.3 566.6 L461.6 567.6 L460.0 567.7 L459.4 568.8 L458.9 570.1 L457.7 570.7 L456.2 571.0 L455.8 572.4 L455.3 573.7 L454.1 574.3 L453.3 575.3 L452.7 576.4 L451.4 577.0 L450.7 578.1 L449.8 579.0 L448.2 579.1 L447.4 580.2 L447.2 581.7 L446.8 582.9 L445.3 583.3 L445.0 584.6 L443.3 584.8 L443.1 586.2 L442.6 587.4 L441.7 588.2 L441.1 589.4 L440.1 590.2 L438.8 590.7 L438.2 591.9 L436.6 592.1 L435.8 593.1 L435.5 594.6 L434.0 594.9 L432.9 595.6 L432.3 597.2 L430.9 597.4"/>
<path d="M647.5 461.0 L646.4 461.8 L644.9 460.9 L643.6 462.2 L643.8 464.1 L642.9 465.2 L641.1 464.7 L639.9 465.4 L638.9 466.6 L637.6 466.8 L637.3 467.7 L637.5 468.9 L637.1 470.0 L637.0 471.2 L637.1 472.4 L637.7 473.4 L638.1 474.7 L638.3 476.2 L639.2 477.3"/>
<path d="M639.2 477.3 L640.3 478.1 L641.7 477.9 L642.7 479.0 L644.1 479.1 L645.4 478.3 L646.6 478.0 L647.9 478.4 L649.1 477.7 L648.1 479.2 L648.4 480.7"/>
<path d="M662.5 459.8 L661.9 460.9 L660.7 461.5 L660.0 462.5 L660.2 464.0 L659.6 465.1 L658.3 465.7 L657.9 467.0 L656.9 468.1 L657.0 469.7 L655.3 470.4 L655.1 471.6 L653.9 472.0 L653.5 473.4 L653.1 474.6 L651.3 474.4 L651.1 476.1 L649.9 476.8 L649.7 478.4 L648.2 478.9 L647.5 480.3 L648.2 481.9 L648.1 483.3 L647.6 484.6 L648.0 486.0 L649.0 487.2 L647.7 488.5 L646.3 488.7 L645.6 489.7 L644.3 489.9 L643.0 490.1 L642.1 491.4 L640.7 491.6 L639.8 492.9 L638.6 493.6 L637.8 494.5 L636.0 494.9 L635.5 496.2 L636.7 497.5 L636.5 498.7 L636.0 500.0 L635.4 500.3 L635.2 501.7 L633.7 501.3 L632.3 501.7 L631.0 500.9 L629.7 500.3 L628.3 500.9 L626.8 501.5 L625.4 500.6 L624.0 500.8 L622.5 500.5 L621.3 500.6 L620.2 501.0 L618.9 500.6 L617.8 501.1 L616.7 501.9 L615.4 502.3 L613.9 501.3 L612.6 501.5 L611.3 502.2 L610.0 502.1 L608.9 503.1 L607.4 503.0 L606.3 503.9 L604.8 503.5 L603.9 504.8 L602.5 505.2 L601.5 506.4 L600.0 506.5 L598.8 507.1 L597.1 506.9 L596.3 508.5 L595.0 509.1 L593.7 509.5 L592.5 510.3 L591.2 510.8 L590.3 512.1 L588.7 511.4 L587.5 512.1 L586.4 512.9 L585.0 512.3 L583.6 511.8 L582.5 512.9 L581.4 513.6 L580.0 513.2 L578.9 513.7 L578.4 515.1 L577.2 515.4 L576.1 515.9 L575.3 517.0 L574.1 517.4 L573.4 518.4 L572.1 518.7 L570.9 519.0 L570.0 519.9 L568.8 520.4 L567.3 520.6 L566.7 522.1 L565.2 522.3 L564.4 523.7 L563.1 523.7 L561.7 523.8 L561.4 525.5 L560.5 526.3 L559.1 526.4 L557.9 527.0 L557.6 528.8 L556.0 529.0 L555.4 530.3 L554.1 530.9 L553.2 531.9 L553.1 533.6"/>
<path d="M639.2 477.3 L637.9 476.6 L637.7 475.1 L637.2 473.8 L635.8 473.2 L634.9 474.4 L633.3 474.8 L632.7 475.9 L632.1 477.0 L632.7 478.4 L632.4 479.6 L631.4 480.6 L631.3 482.1 L629.7 483.1 L630.2 484.9 L628.8 485.6 L627.3 485.7 L626.1 486.5 L624.6 486.7 L623.1 486.6 L622.0 487.5 L620.7 487.8 L619.4 488.2 L618.1 488.8 L616.6 488.4 L615.5 489.6 L613.9 488.8 L612.6 488.9 L611.3 489.7 L610.0 489.7 L608.7 490.4 L607.6 491.4 L605.9 491.1 L604.4 491.2 L603.5 492.8 L602.1 492.9 L600.6 492.9 L599.1 492.9 L598.1 494.2 L596.8 494.9 L595.6 495.3 L594.2 494.9 L592.7 494.6 L591.7 495.8 L590.5 496.3 L589.0 495.4 L587.8 495.8 L586.7 496.8 L585.7 497.2 L584.7 497.8 L584.3 499.1 L583.1 500.0 L581.7 499.3 L580.3 498.9 L579.1 499.6"/>
<path d="M600.8 494.5 L601.8 495.4 L603.2 495.6 L604.3 496.4 L605.7 496.9 L606.7 498.1 L605.3 498.7 L604.7 500.1 L603.4 500.7 L602.1 501.5 L601.3 502.9 L599.6 503.1"/>
<path d="M579.2 499.8 L578.2 499.0 L578.0 497.7 L576.8 497.0 L576.7 495.7 L576.2 494.3 L576.0 492.9 L574.5 492.1 L573.6 490.9 L575.0 489.4 L574.0 488.2 L573.5 486.9 L574.4 485.7 L574.9 484.3 L574.6 482.6 L576.0 481.6 L574.3 481.2 L572.8 481.0 L571.9 479.2 L571.5 478.5 L570.3 477.8 L569.2 477.0 L569.1 475.7 L569.2 474.4 L569.0 473.2 L568.1 472.2 L567.8 471.0 L567.4 469.8 L567.5 468.4 L566.2 467.5 L565.9 466.2 L565.9 464.8 L565.2 463.4 L564.0 462.6 L562.2 462.8 L561.2 462.6 L559.7 461.8 L558.5 462.7 L557.2 463.5 L555.8 463.1 L554.7 463.6 L553.5 463.2 L552.4 463.8 L551.1 463.0 L550.0 463.2 L548.9 464.6 L547.1 464.4 L546.3 465.9 L544.8 466.1 L543.6 465.9 L542.3 465.2 L540.5 465.7 L540.4 463.7 L540.1 462.4 L538.8 461.7 L538.0 461.1 L536.8 461.4 L535.7 461.4 L534.5 460.8 L533.4 460.2 L532.0 460.9 L530.6 461.3 L529.3 460.5 L527.9 461.1 L526.7 459.8 L525.4 459.9 L524.0 460.4 L522.6 460.6 L521.3 459.8 L520.1 459.1"/>
<path d="M520.0 500.7 L521.3 500.8 L522.7 500.6 L524.0 501.3 L525.3 500.7 L526.7 499.9 L528.0 500.0 L529.0 500.9 L530.1 501.3 L531.4 501.1 L532.4 502.1 L533.0 502.6 L534.4 503.1 L535.0 504.2 L534.7 505.8 L535.3 506.8 L535.6 507.7 L536.6 508.8 L537.2 509.9 L536.5 511.2 L536.0 512.4 L537.1 513.5 L537.7 514.6 L538.1 515.8 L538.8 516.8 L540.0 517.6 L540.7 518.7 L539.8 520.5 L540.6 521.8 L540.6 523.2 L542.0 523.8 L543.2 524.5 L544.6 523.7 L545.9 523.5 L547.3 524.4 L548.3 525.8 L550.0 525.5 L550.9 526.6 L550.4 528.2 L551.6 529.1"/>
<path d="M552.0 536.3 L551.1 537.5 L550.9 539.0 L550.1 540.2 L550.1 541.8 L549.9 542.9 L549.2 544.0 L548.1 545.0 L548.0 546.2 L548.6 547.6 L548.5 548.7 L549.0 549.8 L548.8 551.0 L548.2 552.3 L549.3 553.3 L549.6 554.7 L550.9 555.6 L551.4 556.9 L550.9 558.7 L551.5 559.7 L551.1 561.0 L551.3 562.3 L552.0 563.8 L550.5 565.0 L550.5 566.4 L550.1 567.8 L548.9 568.7 L548.1 569.9 L547.4 571.2 L547.4 572.8 L547.3 574.4 L546.0 575.4 L544.8 575.8 L543.5 575.9 L542.7 576.9 L541.7 577.5 L540.8 578.6 L539.8 579.4 L538.2 579.5 L537.3 580.6 L536.6 581.8 L535.8 582.9 L535.4 584.3 L534.0 584.9 L533.4 586.0 L532.4 586.7 L532.1 588.0 L531.6 589.1 L530.5 589.8 L530.5 591.4 L529.5 592.5 L528.4 593.5 L528.7 595.2 L527.8 596.1 L527.4 597.3 L527.3 598.7 L525.7 599.2 L525.0 600.3 L525.1 601.7 L524.1 602.6 L523.3 603.6 L522.2 604.3 L521.8 605.7 L521.5 607.1 L519.9 607.4 L519.6 609.1 L517.7 609.2 L516.6 610.1 L516.2 611.7 L515.0 612.5 L513.7 612.7 L512.9 613.7 L512.2 614.8 L511.1 615.2 L510.1 615.9 L509.6 617.3 L507.9 617.0 L507.4 618.4 L506.2 618.7 L505.4 619.7 L504.5 620.5 L502.9 620.2 L502.3 621.8 L502.0 623.2 L500.8 623.9 L499.4 624.5 L500.1 626.4 L499.1 627.4 L497.8 628.2 L497.8 629.6 L497.8 631.0 L497.1 632.0 L496.0 632.7 L495.9 634.1 L495.3 635.1 L493.7 635.4 L493.0 636.4 L492.7 637.9 L491.1 637.8 L490.1 638.4 L489.7 640.0 L488.8 640.7 L487.3 640.7 L486.4 642.5"/>
<path d="M481.7 545.0 L483.0 545.0 L484.3 545.1 L485.7 545.3 L487.0 544.6 L488.3 545.5 L489.8 545.3 L491.1 545.8 L492.6 545.5 L493.8 547.0 L495.3 546.3 L496.6 546.9 L497.9 546.8 L499.1 547.0 L500.1 548.0 L501.4 548.0 L502.7 547.5 L504.0 547.2 L505.0 548.3 L506.4 548.4 L507.6 549.3 L509.0 549.1 L510.1 550.4 L511.6 550.2 L511.7 548.5 L513.1 547.8 L514.2 547.0 L514.8 546.0 L515.5 544.9 L516.5 544.1 L517.6 543.4 L518.6 542.7 L519.9 542.7 L521.2 542.7 L522.1 541.7 L523.1 540.5 L524.7 541.4 L526.0 540.8 L527.3 540.5 L528.7 541.4 L530.1 541.5 L531.2 541.4 L532.6 541.3 L533.7 542.3 L534.8 543.1 L536.4 542.7 L537.5 541.8 L538.8 541.7 L539.9 540.8 L541.1 540.5 L542.3 540.9 L543.5 540.8 L544.6 540.1 L545.8 540.2 L547.2 540.2 L548.4 540.3 L549.6 541.4"/>
<path d="M480.8 555.0 L482.1 555.1 L483.4 554.4 L484.6 554.8 L485.8 555.5 L487.1 555.3 L488.3 555.7 L489.6 555.9 L490.9 556.5 L492.4 555.9 L493.9 555.8 L495.0 557.1 L496.2 557.4 L497.2 558.2 L498.6 557.9 L499.6 558.7 L501.0 558.4 L502.3 558.4 L503.3 559.3 L504.5 559.7 L505.6 560.2 L506.8 560.6 L507.6 561.7 L508.6 562.5 L510.1 562.2 L511.1 563.4 L512.1 564.3 L513.7 564.6 L514.7 565.5 L515.1 567.3 L516.3 568.0 L517.9 568.1 L518.2 569.8 L519.6 570.1 L520.5 571.0 L521.5 571.8 L522.6 573.0 L524.2 572.3 L525.5 572.7 L526.7 573.2 L528.2 572.8 L529.6 573.6 L531.0 574.4 L532.5 573.4 L532.4 575.0 L533.3 575.9 L532.8 577.0 L531.6 577.4 L531.0 578.5 L531.6 579.5 L531.5 580.7 L530.7 582.1 L530.2 583.2 L528.6 583.5"/>
<path d="M247.6 612.6 L247.9 613.9 L248.7 615.0 L248.4 616.3 L247.5 617.7 L247.8 619.0 L248.7 620.1 L248.8 621.4 L248.7 622.7 L249.0 624.0 L248.2 625.1 L248.5 626.4 L247.8 627.6 L247.0 628.8 L247.7 630.2 L247.8 631.5 L246.9 632.6 L247.2 633.9 L247.5 635.3 L246.3 636.4 L246.0 637.6 L245.7 638.8 L246.3 640.4 L245.0 641.4 L244.6 642.7 L244.5 644.0 L243.2 645.0 L243.5 646.5 L243.5 647.9 L242.7 649.0 L241.7 650.0 L241.7 651.5 L240.8 652.5 L240.9 654.0 L240.6 655.2 L239.5 656.3 L239.4 657.6 L239.9 659.2 L238.9 660.2 L238.4 661.4 L237.6 662.3 L237.2 663.5 L236.6 664.5 L235.2 665.1 L234.6 666.2 L235.1 667.9 L233.6 668.8 L233.2 670.1 L233.6 671.7 L232.9 672.9 L232.0 674.0 L231.2 675.1 L231.2 676.5 L229.9 677.5 L230.3 679.1 L229.2 679.9 L229.2 681.4 L228.9 682.7 L227.4 683.2"/>
<path d="M261.4 610.1 L261.6 611.4 L261.5 612.8 L262.5 613.9 L263.7 614.9 L263.5 616.3 L263.0 617.8 L263.6 619.0 L264.9 619.9 L264.1 621.6 L265.2 622.6 L265.6 623.9 L266.2 625.1 L266.7 626.3 L267.0 627.6 L267.9 628.7 L267.3 630.2 L267.0 631.6 L267.9 632.7 L269.3 633.7 L269.1 635.1 L270.0 636.2 L270.1 638.0 L271.1 639.1 L270.8 640.1 L270.3 641.3 L270.9 642.7 L271.2 644.0 L270.9 645.2 L270.1 646.4 L270.2 647.7 L269.0 648.4 L269.2 650.0 L268.5 651.0 L267.5 651.8 L267.6 653.3 L266.7 654.1 L265.6 655.2 L265.2 656.5 L264.4 657.6 L263.8 658.9 L263.8 660.5 L262.8 661.6 L262.0 662.9 L263.0 664.0 L264.0 665.1 L263.8 666.4 L263.2 667.8 L263.7 669.0 L262.9 669.8 L261.8 670.6 L262.1 672.2 L261.8 673.4 L260.7 674.2 L260.4 675.4 L259.2 676.0 L258.4 677.1 L257.1 677.5 L256.2 678.4 L255.5 679.5 L254.6 680.1 L253.5 680.9 L253.6 682.2 L253.4 683.4"/>
<path d="M430.1 597.1 L429.7 598.2 L429.0 599.2 L428.6 600.4 L428.8 601.8 L427.8 602.7 L427.4 603.9 L427.1 605.1 L426.2 606.2 L426.9 607.6 L426.6 608.9 L426.2 610.1 L426.2 611.4 L426.4 612.8 L424.7 613.7 L424.4 615.0 L425.0 616.5 L424.2 617.6 L424.0 618.9 L424.2 620.2 L423.2 621.4 L423.7 622.7 L422.5 623.8 L422.7 625.1 L423.3 626.5 L422.5 627.6 L422.8 629.0 L422.1 630.1 L421.9 631.4 L421.7 632.7 L421.1 633.8 L421.0 635.1 L420.7 636.4 L420.5 637.9 L419.5 639.0 L418.3 639.9 L419.3 641.4 L419.0 642.7 L418.8 644.1 L419.9 645.2 L420.9 646.3 L419.6 647.6 L418.4 648.1 L417.5 648.9"/>
<path d="M417.5 649.0 L418.8 649.1 L420.1 649.4 L421.2 650.2 L422.7 649.7 L423.9 650.5 L424.9 651.5 L426.1 652.2 L427.6 652.0 L429.1 652.1 L430.1 652.6 L431.3 652.8 L432.6 653.2 L433.8 651.9 L435.1 652.4 L436.3 651.8 L437.6 652.1 L438.8 652.8 L440.0 653.7 L441.2 654.4 L442.9 654.0 L443.8 655.4 L445.3 655.4 L446.0 657.3 L447.6 655.9 L448.9 656.8 L450.2 656.3 L451.3 655.6 L452.6 655.9 L453.8 654.9 L455.1 654.9 L456.4 655.7 L457.7 655.6 L458.8 656.6 L460.4 656.0 L461.6 656.9 L463.2 656.2 L464.2 657.8 L465.7 657.7 L466.9 657.5 L468.0 656.9 L469.3 656.9 L470.2 655.9 L471.3 655.2 L472.8 655.8 L474.0 655.6 L475.4 654.4 L475.5 652.6 L476.0 651.2 L477.5 650.7 L478.5 649.8 L479.5 648.9 L480.9 648.5 L481.4 647.0 L482.5 646.2 L483.3 645.1 L484.3 644.2 L485.9 643.8 L486.5 642.5"/>
<path d="M430.1 597.1 L431.6 597.6 L432.5 596.1 L433.8 595.9 L435.0 595.5 L436.4 595.6 L437.7 595.6 L438.7 595.8 L440.4 595.4 L441.2 596.9 L442.3 597.7 L444.0 597.1 L445.0 598.3 L445.4 599.9 L446.8 600.4 L447.9 601.2 L448.7 602.2 L449.3 603.3 L449.9 604.5 L451.5 604.8 L452.3 605.8 L452.4 607.3 L454.1 606.6 L455.1 605.5 L455.9 603.9 L457.6 605.1 L458.7 605.7 L459.2 607.2 L460.3 607.9 L461.7 608.1 L462.5 609.1 L463.7 609.5 L464.9 610.0 L465.6 611.3 L467.1 611.2 L468.6 611.2 L469.2 612.7 L470.3 613.3 L471.5 613.8 L472.8 613.9 L473.4 615.3 L474.5 616.0 L475.7 616.3 L476.5 617.4 L478.0 617.3 L479.3 617.5 L479.3 619.6 L480.7 620.2 L481.4 621.4 L482.1 622.6 L483.7 623.1 L484.4 624.3 L485.0 625.5 L486.4 625.8 L486.8 627.4 L487.5 628.5 L489.0 628.9 L488.6 630.1 L487.8 631.1 L487.0 632.0 L486.7 633.2 L485.5 634.0 L484.9 635.0 L485.6 636.5 L485.0 637.7 L485.2 639.0 L484.4 640.1 L485.4 641.4 L487.1 641.9"/>
<path d="M417.5 649.0 L418.9 649.8 L418.8 651.4 L419.3 652.8 L420.1 653.9 L421.3 654.4 L422.6 654.9 L424.0 655.0 L425.0 656.0 L426.1 657.1 L427.2 657.3 L428.4 657.7 L429.1 658.9 L430.7 658.6 L431.7 659.3 L432.5 660.3 L433.1 661.7 L434.8 662.0 L435.7 663.1 L436.5 664.4 L437.8 665.0 L436.6 666.0 L436.6 667.6 L435.7 668.5 L434.4 669.1 L434.0 670.4 L434.9 671.0 L435.3 672.3 L435.4 673.8 L436.7 674.4 L438.2 674.8 L438.8 675.5 L440.1 675.8 L441.4 676.0 L442.5 677.1 L443.0 677.8 L442.5 679.2 L443.0 680.6 L442.8 681.9 L442.4 683.3"/>
<path d="M638.5 237.5 L640.0 237.5 L641.4 237.8 L642.8 238.1 L644.2 238.1 L645.7 238.4 L647.0 237.2 L648.4 237.4 L649.8 236.8 L651.3 237.3 L652.6 236.4 L654.1 237.0 L655.5 237.2 L657.1 236.3 L658.4 237.4 L659.7 237.9 L660.9 238.1 L662.0 238.7 L663.4 238.7 L664.6 239.2 L665.2 240.7 L666.5 241.2 L667.6 241.9 L669.2 241.9 L670.3 242.6 L670.8 244.3 L672.2 244.8 L673.3 245.6 L674.5 246.4 L676.1 246.7 L676.5 248.5 L678.3 248.2 L678.8 249.6 L679.5 250.9 L680.8 251.3 L682.6 251.1 L683.9 252.0 L684.7 253.7"/>
<path d="M638.5 238.9 L637.7 239.9 L636.8 240.9 L635.7 241.7 L635.1 243.1 L633.8 243.5 L632.3 243.5 L631.4 244.4 L630.4 245.2 L629.8 246.7 L628.5 246.9 L626.9 246.9"/>
<path d="M641.7 238.2 L641.2 239.6 L642.2 240.7 L642.8 241.8 L642.7 243.2 L643.2 244.3 L644.1 245.2 L643.7 246.6 L643.4 247.9"/>
<path d="M425.0 429.2 L426.4 429.8 L427.8 430.2 L429.0 431.1 L430.4 431.5 L430.1 433.0 L430.8 433.9 L431.6 434.9"/>
<path d="M431.3 435.0 L432.8 435.4 L433.5 433.8 L434.5 433.1 L435.9 433.5 L436.4 432.3 L438.0 432.2 L438.6 431.1 L439.0 429.8 L440.2 429.4 L441.4 428.8 L442.4 427.6 L443.5 426.7 L445.1 427.0 L446.3 426.9 L447.2 425.8 L448.4 425.4 L449.7 425.8 L450.8 425.1 L451.9 426.3 L453.2 426.7 L454.8 426.5 L455.8 427.7 L457.1 428.1 L458.5 428.7 L459.2 430.3 L460.6 430.8 L462.0 430.2 L463.2 430.6 L464.4 430.4 L465.4 431.5 L466.7 430.9 L468.3 430.8 L469.2 429.2 L470.8 429.0 L471.6 430.3 L472.9 430.5 L473.7 431.5 L474.8 432.0 L476.1 431.3 L477.2 431.1 L478.2 430.3 L479.2 430.0 L479.7 428.9 L480.4 427.8 L481.6 427.2 L481.5 425.7 L482.6 427.0 L482.7 428.2 L481.7 429.7 L482.5 430.8 L481.1 431.1 L480.7 432.3 L480.5 433.8 L479.5 434.5 L479.7 435.3 L481.0 435.5 L482.0 435.9 L482.9 436.3 L484.2 436.1 L485.3 435.0 L486.7 435.9 L487.8 436.4 L488.7 437.2 L490.2 437.1"/>
<path d="M488.3 427.5 L488.3 428.8 L488.5 430.0 L487.9 431.2 L487.8 432.5 L488.3 433.9 L488.8 435.1 L490.1 436.1 L490.6 437.3"/>
<path d="M490.0 437.5 L490.6 438.7 L491.2 439.9 L490.5 441.5 L491.6 442.5 L492.7 443.2 L494.1 443.2 L495.0 444.2 L495.7 445.5 L497.0 445.8 L498.6 445.3 L499.7 445.9 L500.5 447.1 L501.5 447.9 L502.9 448.3 L504.6 447.9 L505.9 448.4 L506.8 450.0 L508.3 450.0 L509.5 450.4 L510.3 451.6 L511.6 451.6 L513.0 451.5 L513.8 452.6 L515.1 452.7 L516.3 453.3 L516.9 454.8 L518.0 455.5"/>
<path d="M518.3 455.0 L519.0 454.0 L519.2 452.7 L520.7 452.2"/>
<path d="M518.3 455.0 L518.0 456.2 L518.7 457.6 L517.6 458.7 L517.1 459.9 L517.2 461.4 L516.6 462.7 L517.3 464.3 L516.1 465.5 L514.4 465.6 L513.1 466.0 L512.8 467.6 L511.9 468.7 L511.1 469.6 L510.7 470.9 L509.6 471.8 L509.4 473.3 L507.7 473.8 L507.5 475.2 L507.0 476.5 L506.1 477.5 L505.8 478.9 L505.7 480.4 L504.9 481.5 L503.2 482.0 L503.0 483.5 L501.8 484.4 L501.9 486.0 L500.9 486.9 L499.9 487.7 L499.0 488.7 L498.6 490.1 L498.0 491.3 L496.5 491.6 L495.7 492.4 L494.6 492.9 L494.0 494.2 L492.3 493.8 L491.5 494.7 L490.8 495.8 L489.5 496.1 L488.7 497.0 L487.3 497.1 L487.0 498.8 L485.9 499.4 L485.1 500.3 L483.7 500.3 L482.6 501.0 L481.8 501.8 L481.3 502.9 L480.2 503.6 L480.1 504.9 L478.9 505.6 L477.8 506.3 L478.4 508.1 L477.6 509.3 L476.4 510.4 L477.1 512.0 L477.0 513.4 L475.7 514.3 L475.5 515.9 L473.6 516.2"/>
<path d="M517.5 462.0 L518.3 461.2 L519.0 460.3 L520.4 460.5"/>
<path d="M491.7 495.3 L493.0 494.7 L494.3 495.7 L495.7 495.6 L497.0 495.4 L498.3 495.7 L499.7 495.6 L501.0 495.0 L502.3 495.4 L503.6 496.0 L505.0 495.8 L506.2 496.2 L507.4 496.6 L508.6 497.0 L510.0 496.5 L511.0 497.5 L512.0 498.4 L513.4 498.2 L514.7 498.7 L516.1 498.6 L517.3 499.6 L518.8 499.0 L520.0 499.9"/>
<path d="M99.4 71.4 L100.4 72.4 L101.4 73.4 L102.4 74.4 L103.9 74.4 L104.8 75.1 L105.3 76.5 L106.0 77.4 L107.1 78.2 L108.3 79.2 L108.5 80.8 L110.3 81.1 L111.1 82.7 L112.6 81.7 L113.2 80.3 L114.7 81.6 L115.8 82.6 L116.4 84.0 L117.3 85.1 L118.4 86.0 L119.9 85.6 L121.1 86.3 L122.5 85.5 L124.0 85.4 L125.4 84.7 L126.2 83.7 L127.6 83.2 L129.0 82.6 L129.8 81.7 L131.2 82.1 L132.2 81.6 L133.0 80.3 L134.6 81.0 L135.6 79.8 L136.6 78.8 L138.1 79.3 L139.0 78.2 L139.8 77.2 L140.9 76.5 L142.0 75.4 L143.3 74.5 L144.9 74.4 L146.1 74.9 L147.3 75.7 L148.7 76.1 L150.2 76.2 L151.8 75.6 L153.0 77.1 L154.6 76.0 L156.0 77.0 L157.2 77.0 L158.4 77.2 L159.3 78.0 L160.3 78.8 L161.7 78.8 L162.7 79.6 L163.3 81.0 L164.7 81.3 L165.1 82.5 L166.5 82.8 L167.0 83.9 L168.1 84.4 L168.9 85.2 L169.9 85.9 L170.3 87.1 L171.3 87.8 L172.6 88.4 L173.5 89.5 L174.6 90.4 L176.1 90.9 L176.6 92.4 L177.9 93.1 L178.5 94.2 L179.2 95.2 L179.9 96.2"/>
<path d="M99.4 71.4 L98.7 72.8 L99.1 74.2 L98.5 75.5 L99.3 76.9 L99.9 78.2 L99.4 79.8 L100.3 81.2 L100.4 82.3 L101.3 83.2 L100.7 84.6 L100.8 85.8 L99.6 86.6 L99.9 88.1 L99.3 89.3 L99.5 90.8 L98.2 92.1 L99.5 93.3 L98.9 94.9 L99.9 95.9"/>
<path d="M99.9 96.0 L100.9 95.1 L100.4 93.7 L100.6 92.6 L102.2 92.3 L103.6 92.5 L104.8 91.9 L106.1 92.8 L107.8 92.2 L109.1 92.8 L110.6 93.0 L111.9 94.2 L113.6 93.6 L114.4 94.5 L115.3 95.3 L116.6 95.5 L115.9 97.3 L116.9 98.2 L117.9 99.0 L118.6 99.3 L119.5 100.3 L120.7 100.6 L121.4 99.5 L122.7 98.4 L123.4 98.3 L124.3 99.1 L125.0 100.1 L125.0 101.6 L124.6 103.1 L125.2 104.3 L125.3 105.7 L126.8 106.6 L127.4 107.3 L128.6 106.3 L129.9 106.3 L131.2 105.7 L132.2 104.6 L134.0 104.8 L135.0 103.3 L136.6 103.3 L138.1 103.3 L136.7 102.0 L136.5 100.3 L135.7 99.2 L134.5 98.6 L134.0 97.3 L132.3 97.0 L132.2 95.4 L131.5 94.3 L131.8 93.1 L132.9 92.3 L133.8 91.4 L135.2 91.6 L136.6 91.8 L137.4 90.3 L138.7 89.9 L139.6 88.8 L139.7 87.4 L141.0 86.6 L142.2 85.8 L142.3 84.6 L142.7 83.5 L143.1 82.4 L144.2 81.7 L145.5 82.0 L146.7 82.6 L148.0 82.2 L149.2 81.6 L150.6 82.0 L151.0 82.9 L151.7 83.8 L152.9 84.4 L153.6 85.6 L154.9 85.9 L156.5 85.9 L157.3 87.3 L158.4 88.3 L159.1 89.6 L159.9 90.8 L161.5 90.8 L162.6 91.5 L163.8 92.2 L165.1 92.8 L165.8 94.0 L167.1 94.6"/>
<path d="M162.5 91.9 L161.4 93.1 L160.3 94.3 L159.6 95.4 L158.5 96.0 L158.3 96.6 L159.1 97.5 L159.0 98.8 L159.7 100.0 L160.7 100.9 L161.3 102.1 L162.9 102.4 L163.5 103.9 L164.2 105.3 L165.2 106.0 L166.4 106.8 L166.1 105.6 L166.8 104.4 L166.6 103.2 L167.0 102.0 L167.7 100.8 L169.4 101.0 L170.2 99.8 L171.6 99.1 L172.9 98.2 L173.7 96.9 L173.1 95.3 L174.9 94.6 L175.6 93.3"/>
<path d="M138.6 77.4 L138.6 78.8 L139.2 80.1 L139.9 81.6 L140.9 82.7"/>
<path d="M166.4 106.8 L167.3 107.7 L167.9 109.0 L169.1 109.5 L170.0 110.5 L170.3 111.9 L171.6 112.6 L171.4 114.2 L171.7 115.3 L173.3 115.9 L172.9 117.7 L172.1 119.0 L172.0 120.5"/>
<path d="M179.4 97.0 L179.3 95.8 L179.8 94.5 L178.6 93.3 L177.8 92.3 L178.3 90.5 L177.4 89.4 L178.2 88.8 L179.3 88.2 L180.0 87.3 L181.3 87.1 L182.0 85.7 L183.2 85.0 L183.9 83.7 L185.6 83.7 L186.4 82.5 L187.0 81.4 L187.3 80.1 L188.6 79.3 L188.9 77.9 L190.6 78.1 L191.7 77.3 L192.6 76.6 L193.7 75.7 L194.9 75.6"/>
</g>
<g stroke="#000" stroke-width="3.6" fill="none" stroke-linejoin="round" stroke-linecap="round">
<path d="M554.4 209.6 L555.4 208.9 L556.6 208.5 L554.9 209.2"/>
<path d="M620.0 501.0 L618.6 500.5 L617.3 501.1 L616.0 501.6 L614.6 501.5 L613.4 502.7 L612.0 502.3 L610.8 503.2 L609.2 502.3 L608.0 503.2 L606.7 503.8 L605.7 504.8 L604.1 504.6 L603.1 505.8 L601.5 505.7 L600.4 506.1 L599.1 506.2 L598.3 507.5 L597.4 508.5 L596.2 508.7 L595.0 509.1 L593.8 509.7 L592.7 510.7 L590.9 510.2 L589.8 511.1"/>
<path d="M555.0 529.0 L556.3 528.3 L557.3 527.2 L558.8 526.8 L560.5 526.8 L561.0 525.4 L561.9 524.6 L562.5 523.3 L564.1 523.5 L565.3 523.1 L566.5 522.4 L567.5 521.3 L568.9 520.8 L569.6 519.1 L571.0 519.1 L571.8 518.1 L572.8 517.5 L574.6 518.0 L575.1 516.6 L576.6 516.4 L577.7 515.4 L578.3 513.5 L579.9 513.4"/>
<path d="M549.7 552.5 L549.9 553.8 L550.0 555.1 L551.3 555.9 L552.2 556.9 L551.9 558.4 L551.6 559.6 L551.6 561.0 L551.3 562.3 L550.3 563.5 L550.9 565.0"/>
<path d="M555.0 209.2 L556.2 209.8 L557.4 209.8 L558.7 208.8 L559.9 209.0 L561.0 210.1 L562.2 210.2 L563.5 209.9 L564.7 210.3 L565.9 210.4 L567.3 209.9 L568.4 210.9 L569.3 212.4 L570.7 212.0 L572.1 211.5 L573.2 212.5 L574.4 212.8 L575.9 212.4 L576.9 213.5 L577.7 215.0 L579.2 214.6 L580.6 214.4 L581.6 215.6 L582.8 215.8 L583.9 216.6 L585.5 215.9 L586.3 217.4 L587.6 217.6 L588.5 218.6 L589.1 220.1 L590.8 220.3 L591.9 221.1 L592.9 220.3 L594.0 219.5 L595.4 219.0 L595.4 216.9 L596.7 218.7 L597.9 219.2 L599.3 219.5 L599.6 220.9 L599.9 222.3 L600.9 223.0 L600.7 224.5 L601.9 225.4 L602.8 226.3 L602.9 227.7 L603.3 229.0 L603.3 230.5 L604.5 231.7 L603.1 233.0 L602.3 234.1 L601.4 235.2 L600.2 236.0 L600.5 237.3 L599.7 238.4 L599.8 239.6 L599.6 240.8 L598.5 241.8 L598.0 243.0 L600.0 242.4 L600.6 241.0 L602.2 240.8 L602.8 239.7 L602.9 238.0 L603.9 237.3 L605.4 237.2 L606.3 236.4 L607.1 235.3 L608.3 234.4 L609.2 233.3 L610.8 233.0 L611.9 232.2 L613.2 232.5 L614.4 230.8 L615.8 230.9 L617.3 231.4 L618.4 231.7 L619.9 231.1 L620.9 231.8 L621.8 233.0 L622.9 233.3 L623.7 234.5 L625.3 234.3 L626.4 235.0 L627.0 236.4 L628.7 235.8 L630.1 236.4 L631.5 236.5 L632.9 236.3 L634.4 236.2 L635.7 237.6 L637.1 237.4 L638.5 237.5"/>
</g>
<g stroke="#000" stroke-width="1.4" fill="none">
<path d="M552.8 403.3 L565.0 403.3 L565.0 411.3 L552.8 411.3 L552.8 403.3"/>
</g>
<g fill="#000" stroke="#000" stroke-width="1.5" stroke-linejoin="round">
<path d="M519.0 171.1 L523.3 170.7 L526.1 173.5 L525.4 176.8 L521.9 176.4 L519.0 174.2Z"/>
<path d="M676.7 365.3 L678.8 365.3 L681.0 370.5 L678.0 372.0 L676.0 369.7Z"/>
<path d="M672.2 375.3 L675.5 374.7 L676.2 379.3 L672.8 379.7Z"/>
<path d="M618.0 496.5 L620.0 495.7 L622.0 497.3 L622.0 501.0 L620.0 502.3 L618.0 501.5 L617.2 499.0Z"/>
<path d="M598.3 500.3 L603.3 499.3 L606.7 501.0 L605.8 504.8 L601.7 506.5 L597.5 505.7Z"/>
<path d="M590.0 510.3 L594.7 509.7 L595.3 512.3 L590.8 513.7Z"/>
<path d="M547.0 533.7 L550.0 531.7 L552.5 529.7 L556.7 528.7 L559.2 530.3 L555.8 533.3 L552.5 536.3 L549.7 538.0 L547.0 537.0Z"/>
<path d="M527.5 581.7 L532.0 580.3 L533.0 584.2 L528.3 585.3Z"/>
<path d="M530.8 573.0 L534.2 573.0 L534.7 576.3 L531.7 576.7Z"/>
<path d="M532.4 182.0 L531.7 186.6 L530.9 190.4 L530.5 195.3 L533.6 195.0 L536.6 196.1 L538.1 198.4 L541.2 199.4 L545.8 202.0 L551.9 204.0 L552.8 206.4 L551.5 211.0 L551.1 212.5 L553.4 215.6 L554.9 218.6 L560.3 222.0 L559.5 223.6 L555.7 222.0 L551.9 219.8 L547.3 222.0 L542.7 226.6 L539.7 231.2 L537.0 237.0 L533.9 235.4 L535.5 228.5 L532.8 225.1 L529.0 226.4 L522.9 227.2 L517.5 227.9 L511.4 228.5 L509.9 226.2 L512.6 222.0 L509.2 220.3 L504.6 221.1 L502.7 217.9 L500.0 214.6 L504.2 214.0 L507.6 210.2 L513.7 202.6 L519.1 197.3 L525.2 191.2 L530.5 186.2Z"/>
<path d="M512.8 594.1 L514.5 596.3 L517.5 596.0 L520.8 596.6 L523.0 595.7 L523.6 599.3 L522.9 603.2 L521.4 606.5 L519.7 608.7 L516.4 611.7 L512.0 615.0 L507.6 617.7 L503.8 620.5 L501.3 623.2 L499.9 623.0 L499.8 620.2 L500.0 616.4 L502.4 613.6 L502.8 611.3 L504.4 608.9 L507.7 607.0 L509.9 604.9 L511.6 602.3 L512.7 599.2 L513.4 597.4 L512.6 594.6Z"/>
</g>
<g fill="#fff" stroke="none">
<path d="M515.3 600.5 L519.7 599.4 L520.6 601.5 L519.3 603.8 L516.5 604.6 L514.9 606.6 L513.5 604.4 L514.2 602.2Z"/>
<path d="M512.1 607.1 L514.3 607.6 L513.2 609.9 L511.0 611.5 L508.8 612.6 L507.7 614.8 L505.8 615.4 L505.1 613.4 L506.5 612.0 L509.8 610.3Z"/>
</g>
<g fill="#eef2f8" stroke="none">
<path d="M528.8 204.3 L539.7 204.7 L540.7 207.6 L539.8 212.5 L542.7 214.0 L538.5 215.6 L535.9 217.9 L532.0 219.4 L528.2 217.9 L525.9 215.6 L530.5 214.0 L530.7 211.0 L529.7 206.4Z"/>
<path d="M541.2 204.9 L550.7 205.1 L551.1 207.6 L548.8 208.1 L545.8 207.3 L542.7 207.8Z"/>
<path d="M544.6 209.8 L546.5 209.3 L547.4 210.6 L545.8 211.6Z"/>
<path d="M548.8 211.0 L550.5 210.4 L551.0 212.4 L549.4 213.3Z"/>
<path d="M541.6 212.1 L543.1 211.6 L543.5 213.1 L542.0 213.4Z"/>
</g>
<g fill="#000" stroke="#000" stroke-width="0.8" stroke-linejoin="round">
</g>
<circle cx="760.3" cy="251.2" r="1.67" fill="#000"/>
<circle cx="741.8" cy="251.2" r="1.17" fill="#888"/>
<text x="68.6" y="668.5" font-size="14.7" font-weight="bold" textLength="132.6" lengthAdjust="spacingAndGlyphs">SEMAD/CIMEHGO</text>
</g>
<rect x="61.5" y="67.4" width="714.0" height="616.1" fill="none" stroke="#000" stroke-width="2.9"/>
<g fill="#808080" font-size="11.2">
<text x="27.4" y="127.4" textLength="19.2" lengthAdjust="spacingAndGlyphs">6°N</text>
<text x="35.5" y="205.4" textLength="11.1" lengthAdjust="spacingAndGlyphs">0°</text>
<text x="28.0" y="284.4" textLength="18.6" lengthAdjust="spacingAndGlyphs">6°S</text>
<text x="20.6" y="362.4" textLength="26.0" lengthAdjust="spacingAndGlyphs">12°S</text>
<text x="20.6" y="440.4" textLength="26.0" lengthAdjust="spacingAndGlyphs">18°S</text>
<text x="20.6" y="519.4" textLength="26.0" lengthAdjust="spacingAndGlyphs">24°S</text>
<text x="20.6" y="597.4" textLength="26.0" lengthAdjust="spacingAndGlyphs">30°S</text>
<text x="20.6" y="676.4" textLength="26.0" lengthAdjust="spacingAndGlyphs">36°S</text>
<text x="123.4" y="706" textLength="29" lengthAdjust="spacingAndGlyphs">80°W</text>
<text x="254.4" y="706" textLength="29" lengthAdjust="spacingAndGlyphs">70°W</text>
<text x="385.4" y="706" textLength="29" lengthAdjust="spacingAndGlyphs">60°W</text>
<text x="515.4" y="706" textLength="29" lengthAdjust="spacingAndGlyphs">50°W</text>
<text x="646.4" y="706" textLength="29" lengthAdjust="spacingAndGlyphs">40°W</text>
</g>
<rect x="822.0" y="646.09" width="29.9" height="36.81" fill="#f1f6fd"/>
<rect x="822.0" y="609.88" width="29.9" height="36.81" fill="#e6f0f9"/>
<rect x="822.0" y="573.66" width="29.9" height="36.81" fill="#dae8f6"/>
<rect x="822.0" y="537.45" width="29.9" height="36.81" fill="#cfe1f2"/>
<rect x="822.0" y="501.24" width="29.9" height="36.81" fill="#c2d9ee"/>
<rect x="822.0" y="465.03" width="29.9" height="36.81" fill="#afd1e7"/>
<rect x="822.0" y="428.82" width="29.9" height="36.81" fill="#9cc9e1"/>
<rect x="822.0" y="392.61" width="29.9" height="36.81" fill="#84bcdb"/>
<rect x="822.0" y="356.39" width="29.9" height="36.81" fill="#6aaed6"/>
<rect x="822.0" y="320.18" width="29.9" height="36.81" fill="#57a0ce"/>
<rect x="822.0" y="283.97" width="29.9" height="36.81" fill="#4493c7"/>
<rect x="822.0" y="247.76" width="29.9" height="36.81" fill="#3484bf"/>
<rect x="822.0" y="211.55" width="29.9" height="36.81" fill="#2474b7"/>
<rect x="822.0" y="175.34" width="29.9" height="36.81" fill="#1865ac"/>
<rect x="822.0" y="139.12" width="29.9" height="36.81" fill="#0c56a0"/>
<rect x="822.0" y="102.91" width="29.9" height="36.81" fill="#08478d"/>
<rect x="822.0" y="66.70" width="29.9" height="36.81" fill="#083776"/>
<g fill="#000" font-size="14.1">
<text x="872.4" y="653.0" textLength="16.9" lengthAdjust="spacingAndGlyphs">20</text>
<text x="872.4" y="616.9" textLength="16.9" lengthAdjust="spacingAndGlyphs">40</text>
<text x="872.4" y="580.7" textLength="16.9" lengthAdjust="spacingAndGlyphs">60</text>
<text x="872.4" y="544.5" textLength="16.9" lengthAdjust="spacingAndGlyphs">80</text>
<text x="872.4" y="508.3" textLength="24.0" lengthAdjust="spacingAndGlyphs">100</text>
<text x="872.4" y="472.1" textLength="24.0" lengthAdjust="spacingAndGlyphs">120</text>
<text x="872.4" y="435.9" textLength="24.0" lengthAdjust="spacingAndGlyphs">140</text>
<text x="872.4" y="399.7" textLength="24.0" lengthAdjust="spacingAndGlyphs">160</text>
<text x="872.4" y="363.5" textLength="24.0" lengthAdjust="spacingAndGlyphs">180</text>
<text x="872.4" y="327.3" textLength="24.0" lengthAdjust="spacingAndGlyphs">200</text>
<text x="872.4" y="291.1" textLength="24.0" lengthAdjust="spacingAndGlyphs">220</text>
<text x="872.4" y="255.0" textLength="24.0" lengthAdjust="spacingAndGlyphs">240</text>
<text x="872.4" y="218.8" textLength="24.0" lengthAdjust="spacingAndGlyphs">260</text>
<text x="872.4" y="182.6" textLength="24.0" lengthAdjust="spacingAndGlyphs">280</text>
<text x="872.4" y="146.4" textLength="24.0" lengthAdjust="spacingAndGlyphs">300</text>
<text x="872.4" y="110.2" textLength="24.0" lengthAdjust="spacingAndGlyphs">320</text>
<text x="872.4" y="74.0" textLength="24.0" lengthAdjust="spacingAndGlyphs">340</text>
</g>
<text x="81" y="33.7" font-size="17.7" font-weight="bold" textLength="681" lengthAdjust="spacingAndGlyphs">Número de Horas de Frio (T&lt;7°C) a cada 24h (h) - Acumulado em 15 dias</text>
<text x="131.6" y="52.1" font-size="17.5" textLength="573" lengthAdjust="spacingAndGlyphs">Acumulado de 06/04/2026 12 UTC a 21/04/2026 11 UTC - WRF 12km</text>
</svg></body></html>
